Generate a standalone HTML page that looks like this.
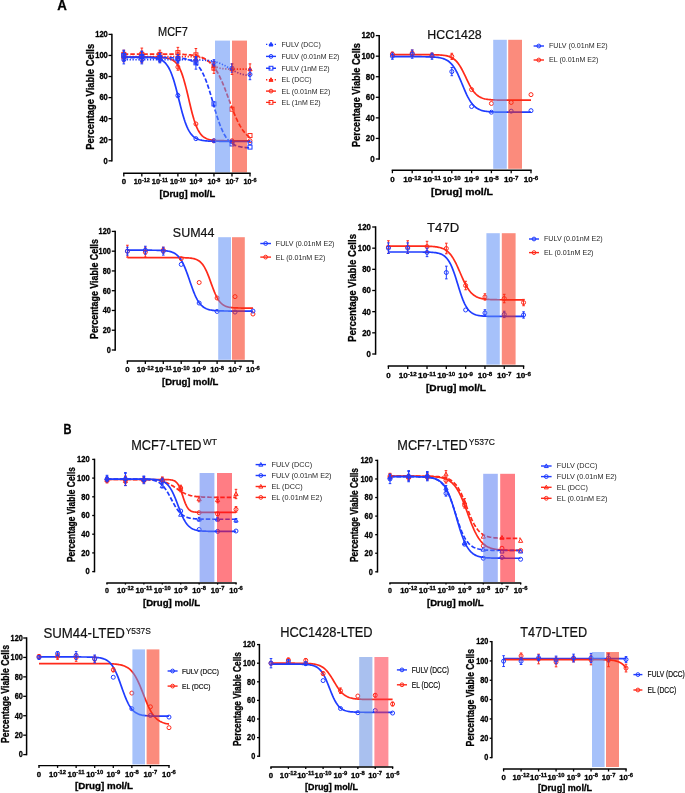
<!DOCTYPE html>
<html><head><meta charset="utf-8"><style>
html,body{margin:0;padding:0;background:#fff;}
body{width:685px;height:793px;overflow:hidden;}
svg{display:block;font-family:"Liberation Sans", sans-serif;will-change:transform;}
text[font-weight="bold"]{stroke:#000;stroke-width:0.3px;fill:#000;}
</style></head><body>
<svg width="685" height="793" viewBox="0 0 685 793">
<rect width="685" height="793" fill="#fff"/>
<text x="57.2" y="10" font-size="14.8" font-weight="bold" fill="#000" textLength="9.6" lengthAdjust="spacingAndGlyphs">A</text>
<text x="63.4" y="434" font-size="14.6" font-weight="bold" fill="#000" textLength="8.0" lengthAdjust="spacingAndGlyphs">B</text>
<polyline points="123.8,56.63 124.7,56.63 125.6,56.63 126.5,56.63 127.41,56.63 128.31,56.63 129.21,56.63 130.11,56.63 131.01,56.63 131.91,56.63 132.81,56.63 133.72,56.63 134.62,56.63 135.52,56.63 136.42,56.63 137.32,56.63 138.22,56.63 139.13,56.63 140.03,56.63 140.93,56.63 141.83,56.63 142.73,56.63 143.63,56.63 144.53,56.63 145.44,56.63 146.34,56.63 147.24,56.63 148.14,56.63 149.04,56.63 149.94,56.63 150.84,56.63 151.75,56.63 152.65,56.63 153.55,56.63 154.45,56.63 155.35,56.63 156.25,56.63 157.16,56.63 158.06,56.63 158.96,56.63 159.86,56.63 160.76,56.63 161.66,56.63 162.56,56.63 163.47,56.63 164.37,56.63 165.27,56.63 166.17,56.63 167.07,56.63 167.97,56.63 168.88,56.63 169.78,56.63 170.68,56.63 171.58,56.63 172.48,56.63 173.38,56.63 174.28,56.63 175.19,56.63 176.09,56.63 176.99,56.63 177.89,56.63 178.79,56.63 179.69,56.63 180.59,56.63 181.5,56.63 182.4,56.64 183.3,56.64 184.2,56.64 185.1,56.65 186,56.65 186.91,56.66 187.81,56.66 188.71,56.68 189.61,56.69 190.51,56.7 191.41,56.72 192.31,56.75 193.22,56.78 194.12,56.82 195.02,56.87 195.92,56.93 196.82,57.01 197.72,57.11 198.62,57.22 199.53,57.37 200.43,57.55 201.33,57.76 202.23,58.03 203.13,58.34 204.03,58.71 204.94,59.14 205.84,59.64 206.74,60.19 207.64,60.81 208.54,61.47 209.44,62.17 210.34,62.89 211.25,63.61 212.15,64.31 213.05,64.98 213.95,65.59 214.85,66.15 215.75,66.64 216.65,67.08 217.56,67.45 218.46,67.76 219.36,68.02 220.26,68.24 221.16,68.42 222.06,68.56 222.97,68.68 223.87,68.78 224.77,68.85 225.67,68.91 226.57,68.96 227.47,69 228.37,69.04 229.28,69.06 230.18,69.08 231.08,69.1 231.98,69.11 232.88,69.12 233.78,69.13 234.68,69.14 235.59,69.14 236.49,69.14 237.39,69.15 238.29,69.15 239.19,69.15 240.09,69.15 241,69.16 241.9,69.16 242.8,69.16 243.7,69.16 244.6,69.16 245.5,69.16 246.4,69.16 247.31,69.16 248.21,69.16 249.11,69.16 250.01,69.16" fill="none" stroke="#ff2a1a" stroke-width="1.7" stroke-dasharray="1.3,1.6" opacity="1"/>
<polyline points="123.8,57.05 124.7,57.05 125.6,57.05 126.5,57.05 127.41,57.05 128.31,57.05 129.21,57.05 130.11,57.05 131.01,57.05 131.91,57.05 132.81,57.05 133.72,57.05 134.62,57.05 135.52,57.05 136.42,57.05 137.32,57.05 138.22,57.05 139.13,57.05 140.03,57.05 140.93,57.05 141.83,57.05 142.73,57.05 143.63,57.06 144.53,57.06 145.44,57.06 146.34,57.06 147.24,57.06 148.14,57.07 149.04,57.07 149.94,57.08 150.84,57.08 151.75,57.09 152.65,57.1 153.55,57.11 154.45,57.12 155.35,57.14 156.25,57.16 157.16,57.18 158.06,57.21 158.96,57.24 159.86,57.28 160.76,57.32 161.66,57.38 162.56,57.45 163.47,57.53 164.37,57.62 165.27,57.74 166.17,57.88 167.07,58.04 167.97,58.24 168.88,58.48 169.78,58.76 170.68,59.1 171.58,59.5 172.48,59.98 173.38,60.55 174.28,61.22 175.19,62.02 176.09,62.95 176.99,64.05 177.89,65.32 178.79,66.8 179.69,68.5 180.59,70.45 181.5,72.65 182.4,75.13 183.3,77.88 184.2,80.89 185.1,84.15 186,87.63 186.91,91.29 187.81,95.07 188.71,98.92 189.61,102.76 190.51,106.54 191.41,110.2 192.31,113.68 193.22,116.94 194.12,119.96 195.02,122.7 195.92,125.18 196.82,127.38 197.72,129.33 198.62,131.03 199.53,132.51 200.43,133.79 201.33,134.88 202.23,135.82 203.13,136.61 204.03,137.28 204.94,137.85 205.84,138.33 206.74,138.73 207.64,139.07 208.54,139.36 209.44,139.59 210.34,139.79 211.25,139.96 212.15,140.1 213.05,140.21 213.95,140.31 214.85,140.39 215.75,140.45 216.65,140.51 217.56,140.56 218.46,140.6 219.36,140.63 220.26,140.65 221.16,140.68 222.06,140.69 222.97,140.71 223.87,140.72 224.77,140.73 225.67,140.74 226.57,140.75 227.47,140.76 228.37,140.76 229.28,140.77 230.18,140.77 231.08,140.77 231.98,140.77 232.88,140.78 233.78,140.78 234.68,140.78 235.59,140.78 236.49,140.78 237.39,140.78 238.29,140.78 239.19,140.78 240.09,140.78 241,140.78 241.9,140.79 242.8,140.79 243.7,140.79 244.6,140.79 245.5,140.79 246.4,140.79 247.31,140.79 248.21,140.79 249.11,140.79 250.01,140.79" fill="none" stroke="#ff2a1a" stroke-width="1.7" opacity="1"/>
<polyline points="123.8,54.1 124.7,54.1 125.6,54.1 126.5,54.1 127.41,54.1 128.31,54.1 129.21,54.1 130.11,54.1 131.01,54.1 131.91,54.1 132.81,54.1 133.72,54.1 134.62,54.1 135.52,54.1 136.42,54.1 137.32,54.1 138.22,54.1 139.13,54.1 140.03,54.1 140.93,54.1 141.83,54.1 142.73,54.1 143.63,54.1 144.53,54.1 145.44,54.1 146.34,54.1 147.24,54.1 148.14,54.1 149.04,54.1 149.94,54.1 150.84,54.1 151.75,54.11 152.65,54.11 153.55,54.11 154.45,54.11 155.35,54.11 156.25,54.11 157.16,54.11 158.06,54.11 158.96,54.12 159.86,54.12 160.76,54.12 161.66,54.12 162.56,54.13 163.47,54.13 164.37,54.13 165.27,54.14 166.17,54.14 167.07,54.15 167.97,54.15 168.88,54.16 169.78,54.17 170.68,54.18 171.58,54.18 172.48,54.19 173.38,54.21 174.28,54.22 175.19,54.23 176.09,54.25 176.99,54.27 177.89,54.29 178.79,54.31 179.69,54.33 180.59,54.36 181.5,54.39 182.4,54.42 183.3,54.46 184.2,54.5 185.1,54.55 186,54.6 186.91,54.66 187.81,54.72 188.71,54.79 189.61,54.87 190.51,54.96 191.41,55.06 192.31,55.17 193.22,55.29 194.12,55.42 195.02,55.58 195.92,55.74 196.82,55.93 197.72,56.14 198.62,56.37 199.53,56.62 200.43,56.9 201.33,57.22 202.23,57.56 203.13,57.95 204.03,58.37 204.94,58.84 205.84,59.36 206.74,59.92 207.64,60.55 208.54,61.24 209.44,61.99 210.34,62.81 211.25,63.71 212.15,64.69 213.05,65.76 213.95,66.91 214.85,68.16 215.75,69.51 216.65,70.95 217.56,72.5 218.46,74.16 219.36,75.91 220.26,77.77 221.16,79.72 222.06,81.77 222.97,83.91 223.87,86.13 224.77,88.42 225.67,90.76 226.57,93.16 227.47,95.59 228.37,98.04 229.28,100.5 230.18,102.94 231.08,105.37 231.98,107.75 232.88,110.09 233.78,112.37 234.68,114.57 235.59,116.69 236.49,118.72 237.39,120.66 238.29,122.49 239.19,124.23 240.09,125.86 241,127.39 241.9,128.81 242.8,130.14 243.7,131.37 244.6,132.51 245.5,133.56 246.4,134.52 247.31,135.4 248.21,136.21 249.11,136.95 250.01,137.63" fill="none" stroke="#ff2a1a" stroke-width="1.7" stroke-dasharray="4.5,2" opacity="1"/>
<polyline points="123.8,59.68 124.7,59.68 125.6,59.68 126.5,59.68 127.41,59.68 128.31,59.68 129.21,59.68 130.11,59.68 131.01,59.68 131.91,59.68 132.81,59.68 133.72,59.68 134.62,59.68 135.52,59.68 136.42,59.68 137.32,59.68 138.22,59.68 139.13,59.68 140.03,59.68 140.93,59.68 141.83,59.68 142.73,59.68 143.63,59.68 144.53,59.68 145.44,59.68 146.34,59.68 147.24,59.68 148.14,59.68 149.04,59.68 149.94,59.68 150.84,59.68 151.75,59.68 152.65,59.68 153.55,59.68 154.45,59.68 155.35,59.68 156.25,59.68 157.16,59.68 158.06,59.68 158.96,59.68 159.86,59.68 160.76,59.68 161.66,59.68 162.56,59.68 163.47,59.68 164.37,59.68 165.27,59.68 166.17,59.68 167.07,59.68 167.97,59.68 168.88,59.68 169.78,59.68 170.68,59.68 171.58,59.69 172.48,59.69 173.38,59.69 174.28,59.69 175.19,59.69 176.09,59.69 176.99,59.69 177.89,59.69 178.79,59.69 179.69,59.7 180.59,59.7 181.5,59.7 182.4,59.7 183.3,59.71 184.2,59.71 185.1,59.71 186,59.72 186.91,59.72 187.81,59.73 188.71,59.74 189.61,59.75 190.51,59.75 191.41,59.76 192.31,59.78 193.22,59.79 194.12,59.8 195.02,59.82 195.92,59.84 196.82,59.86 197.72,59.88 198.62,59.91 199.53,59.94 200.43,59.98 201.33,60.01 202.23,60.06 203.13,60.11 204.03,60.16 204.94,60.23 205.84,60.3 206.74,60.38 207.64,60.47 208.54,60.57 209.44,60.68 210.34,60.81 211.25,60.95 212.15,61.11 213.05,61.28 213.95,61.47 214.85,61.69 215.75,61.92 216.65,62.18 217.56,62.46 218.46,62.77 219.36,63.1 220.26,63.46 221.16,63.84 222.06,64.25 222.97,64.69 223.87,65.14 224.77,65.62 225.67,66.12 226.57,66.63 227.47,67.15 228.37,67.68 229.28,68.21 230.18,68.75 231.08,69.27 231.98,69.79 232.88,70.3 233.78,70.79 234.68,71.25 235.59,71.7 236.49,72.13 237.39,72.53 238.29,72.9 239.19,73.25 240.09,73.57 241,73.87 241.9,74.14 242.8,74.39 243.7,74.61 244.6,74.82 245.5,75 246.4,75.17 247.31,75.32 248.21,75.46 249.11,75.58 250.01,75.69" fill="none" stroke="#1f3cff" stroke-width="1.7" stroke-dasharray="1.3,1.6" opacity="1"/>
<polyline points="123.8,57.05 124.7,57.05 125.6,57.05 126.5,57.05 127.41,57.05 128.31,57.05 129.21,57.05 130.11,57.05 131.01,57.06 131.91,57.06 132.81,57.06 133.72,57.06 134.62,57.06 135.52,57.07 136.42,57.07 137.32,57.08 138.22,57.08 139.13,57.09 140.03,57.1 140.93,57.11 141.83,57.12 142.73,57.13 143.63,57.15 144.53,57.17 145.44,57.19 146.34,57.21 147.24,57.25 148.14,57.28 149.04,57.33 149.94,57.38 150.84,57.44 151.75,57.52 152.65,57.61 153.55,57.71 154.45,57.83 155.35,57.98 156.25,58.16 157.16,58.36 158.06,58.6 158.96,58.89 159.86,59.23 160.76,59.63 161.66,60.1 162.56,60.65 163.47,61.29 164.37,62.05 165.27,62.92 166.17,63.94 167.07,65.12 167.97,66.47 168.88,68.01 169.78,69.77 170.68,71.75 171.58,73.96 172.48,76.42 173.38,79.12 174.28,82.04 175.19,85.18 176.09,88.5 176.99,91.98 177.89,95.55 178.79,99.18 179.69,102.81 180.59,106.38 181.5,109.86 182.4,113.18 183.3,116.32 184.2,119.24 185.1,121.94 186,124.4 186.91,126.61 187.81,128.59 188.71,130.35 189.61,131.89 190.51,133.24 191.41,134.42 192.31,135.44 193.22,136.31 194.12,137.07 195.02,137.71 195.92,138.26 196.82,138.73 197.72,139.13 198.62,139.47 199.53,139.76 200.43,140 201.33,140.2 202.23,140.38 203.13,140.53 204.03,140.65 204.94,140.75 205.84,140.84 206.74,140.92 207.64,140.98 208.54,141.03 209.44,141.08 210.34,141.11 211.25,141.15 212.15,141.17 213.05,141.19 213.95,141.21 214.85,141.23 215.75,141.24 216.65,141.25 217.56,141.26 218.46,141.27 219.36,141.28 220.26,141.28 221.16,141.29 222.06,141.29 222.97,141.3 223.87,141.3 224.77,141.3 225.67,141.3 226.57,141.3 227.47,141.31 228.37,141.31 229.28,141.31 230.18,141.31 231.08,141.31 231.98,141.31 232.88,141.31 233.78,141.31 234.68,141.31 235.59,141.31 236.49,141.31 237.39,141.31 238.29,141.31 239.19,141.31 240.09,141.31 241,141.31 241.9,141.31 242.8,141.31 243.7,141.31 244.6,141.31 245.5,141.31 246.4,141.31 247.31,141.31 248.21,141.31 249.11,141.31 250.01,141.31" fill="none" stroke="#1f3cff" stroke-width="1.7" opacity="1"/>
<polyline points="123.8,57.57 124.7,57.57 125.6,57.57 126.5,57.57 127.41,57.57 128.31,57.57 129.21,57.57 130.11,57.57 131.01,57.57 131.91,57.57 132.81,57.57 133.72,57.57 134.62,57.57 135.52,57.57 136.42,57.57 137.32,57.57 138.22,57.57 139.13,57.57 140.03,57.57 140.93,57.57 141.83,57.57 142.73,57.58 143.63,57.58 144.53,57.58 145.44,57.58 146.34,57.58 147.24,57.58 148.14,57.58 149.04,57.58 149.94,57.58 150.84,57.58 151.75,57.58 152.65,57.58 153.55,57.58 154.45,57.58 155.35,57.59 156.25,57.59 157.16,57.59 158.06,57.59 158.96,57.6 159.86,57.6 160.76,57.6 161.66,57.61 162.56,57.61 163.47,57.62 164.37,57.63 165.27,57.63 166.17,57.64 167.07,57.65 167.97,57.66 168.88,57.68 169.78,57.69 170.68,57.71 171.58,57.73 172.48,57.75 173.38,57.78 174.28,57.81 175.19,57.85 176.09,57.89 176.99,57.93 177.89,57.99 178.79,58.05 179.69,58.12 180.59,58.2 181.5,58.29 182.4,58.39 183.3,58.51 184.2,58.65 185.1,58.81 186,58.99 186.91,59.19 187.81,59.43 188.71,59.7 189.61,60 190.51,60.35 191.41,60.75 192.31,61.2 193.22,61.71 194.12,62.29 195.02,62.95 195.92,63.69 196.82,64.53 197.72,65.47 198.62,66.52 199.53,67.7 200.43,69.01 201.33,70.47 202.23,72.07 203.13,73.83 204.03,75.76 204.94,77.85 205.84,80.11 206.74,82.53 207.64,85.1 208.54,87.82 209.44,90.66 210.34,93.61 211.25,96.65 212.15,99.74 213.05,102.87 213.95,105.99 214.85,109.08 215.75,112.12 216.65,115.07 217.56,117.92 218.46,120.63 219.36,123.21 220.26,125.63 221.16,127.88 222.06,129.97 222.97,131.9 223.87,133.66 224.77,135.27 225.67,136.72 226.57,138.03 227.47,139.21 228.37,140.26 229.28,141.2 230.18,142.04 231.08,142.78 231.98,143.44 232.88,144.02 233.78,144.53 234.68,144.99 235.59,145.38 236.49,145.73 237.39,146.04 238.29,146.31 239.19,146.54 240.09,146.75 241,146.93 241.9,147.08 242.8,147.22 243.7,147.34 244.6,147.45 245.5,147.54 246.4,147.62 247.31,147.69 248.21,147.75 249.11,147.8 250.01,147.85" fill="none" stroke="#1f3cff" stroke-width="1.7" stroke-dasharray="4.5,2" opacity="1"/>
<path d="M123.8,52.31V60.73M122.5,52.31H125.1M122.5,60.73H125.1" stroke="#ff2a1a" stroke-width="1" fill="none"/>
<path d="M123.8,54.32 L125.9,58.17 L121.7,58.17Z" fill="#ff2a1a" stroke="#ff2a1a" stroke-width="1.0"/>
<path d="M141.83,51.25V61.79M140.53,51.25H143.13M140.53,61.79H143.13" stroke="#ff2a1a" stroke-width="1" fill="none"/>
<path d="M141.83,54.32 L143.93,58.17 L139.73,58.17Z" fill="#ff2a1a" stroke="#ff2a1a" stroke-width="1.0"/>
<path d="M159.86,52.31V60.73M158.56,52.31H161.16M158.56,60.73H161.16" stroke="#ff2a1a" stroke-width="1" fill="none"/>
<path d="M159.86,54.32 L161.96,58.17 L157.76,58.17Z" fill="#ff2a1a" stroke="#ff2a1a" stroke-width="1.0"/>
<path d="M177.89,52.31V60.73M176.59,52.31H179.19M176.59,60.73H179.19" stroke="#ff2a1a" stroke-width="1" fill="none"/>
<path d="M177.89,54.32 L179.99,58.17 L175.79,58.17Z" fill="#ff2a1a" stroke="#ff2a1a" stroke-width="1.0"/>
<path d="M195.92,54.41V62.84M194.62,54.41H197.22M194.62,62.84H197.22" stroke="#ff2a1a" stroke-width="1" fill="none"/>
<path d="M195.92,56.43 L198.02,60.28 L193.82,60.28Z" fill="#ff2a1a" stroke="#ff2a1a" stroke-width="1.0"/>
<path d="M213.95,61.79V70.21M212.65,61.79H215.25M212.65,70.21H215.25" stroke="#ff2a1a" stroke-width="1" fill="none"/>
<path d="M213.95,63.8 L216.05,67.65 L211.85,67.65Z" fill="#ff2a1a" stroke="#ff2a1a" stroke-width="1.0"/>
<path d="M231.98,63.89V74.43M230.68,63.89H233.28M230.68,74.43H233.28" stroke="#ff2a1a" stroke-width="1" fill="none"/>
<path d="M231.98,66.96 L234.08,70.81 L229.88,70.81Z" fill="#ff2a1a" stroke="#ff2a1a" stroke-width="1.0"/>
<path d="M250.01,63.89V74.43M248.71,63.89H251.31M248.71,74.43H251.31" stroke="#ff2a1a" stroke-width="1" fill="none"/>
<path d="M250.01,66.96 L252.11,70.81 L247.91,70.81Z" fill="#ff2a1a" stroke="#ff2a1a" stroke-width="1.0"/>
<path d="M123.8,53.36V61.79M122.5,53.36H125.1M122.5,61.79H125.1" stroke="#ff2a1a" stroke-width="1" fill="none"/>
<circle cx="123.8" cy="57.57" r="2" fill="none" stroke="#ff2a1a" stroke-width="1.0"/>
<path d="M141.83,52.31V62.84M140.53,52.31H143.13M140.53,62.84H143.13" stroke="#ff2a1a" stroke-width="1" fill="none"/>
<circle cx="141.83" cy="57.57" r="2" fill="none" stroke="#ff2a1a" stroke-width="1.0"/>
<path d="M159.86,53.36V61.79M158.56,53.36H161.16M158.56,61.79H161.16" stroke="#ff2a1a" stroke-width="1" fill="none"/>
<circle cx="159.86" cy="57.57" r="2" fill="none" stroke="#ff2a1a" stroke-width="1.0"/>
<path d="M177.89,63.89V70.21M176.59,63.89H179.19M176.59,70.21H179.19" stroke="#ff2a1a" stroke-width="1" fill="none"/>
<circle cx="177.89" cy="67.05" r="2" fill="none" stroke="#ff2a1a" stroke-width="1.0"/>
<circle cx="195.92" cy="123.93" r="2" fill="none" stroke="#ff2a1a" stroke-width="1.0"/>
<circle cx="213.95" cy="140.79" r="2" fill="none" stroke="#ff2a1a" stroke-width="1.0"/>
<circle cx="231.98" cy="140.79" r="2" fill="none" stroke="#ff2a1a" stroke-width="1.0"/>
<circle cx="250.01" cy="140.79" r="2" fill="none" stroke="#ff2a1a" stroke-width="1.0"/>
<path d="M123.8,50.2V58.63M122.5,50.2H125.1M122.5,58.63H125.1" stroke="#ff2a1a" stroke-width="1" fill="none"/>
<rect x="121.8" y="52.41" width="4" height="4" fill="none" stroke="#ff2a1a" stroke-width="1.0"/>
<path d="M141.83,48.09V60.73M140.53,48.09H143.13M140.53,60.73H143.13" stroke="#ff2a1a" stroke-width="1" fill="none"/>
<rect x="139.83" y="52.41" width="4" height="4" fill="none" stroke="#ff2a1a" stroke-width="1.0"/>
<path d="M159.86,50.2V58.63M158.56,50.2H161.16M158.56,58.63H161.16" stroke="#ff2a1a" stroke-width="1" fill="none"/>
<rect x="157.86" y="52.41" width="4" height="4" fill="none" stroke="#ff2a1a" stroke-width="1.0"/>
<path d="M177.89,47.36V57.89M176.59,47.36H179.19M176.59,57.89H179.19" stroke="#ff2a1a" stroke-width="1" fill="none"/>
<rect x="175.89" y="50.62" width="4" height="4" fill="none" stroke="#ff2a1a" stroke-width="1.0"/>
<path d="M195.92,48.51V61.15M194.62,48.51H197.22M194.62,61.15H197.22" stroke="#ff2a1a" stroke-width="1" fill="none"/>
<rect x="193.92" y="52.83" width="4" height="4" fill="none" stroke="#ff2a1a" stroke-width="1.0"/>
<path d="M213.95,62.84V73.37M212.65,62.84H215.25M212.65,73.37H215.25" stroke="#ff2a1a" stroke-width="1" fill="none"/>
<rect x="211.95" y="66.11" width="4" height="4" fill="none" stroke="#ff2a1a" stroke-width="1.0"/>
<rect x="229.98" y="107.19" width="4" height="4" fill="none" stroke="#ff2a1a" stroke-width="1.0"/>
<rect x="248.01" y="133.52" width="4" height="4" fill="none" stroke="#ff2a1a" stroke-width="1.0"/>
<path d="M123.8,55.47V63.89M122.5,55.47H125.1M122.5,63.89H125.1" stroke="#1f3cff" stroke-width="1" fill="none"/>
<circle cx="123.8" cy="59.68" r="2" fill="none" stroke="#1f3cff" stroke-width="1.0"/>
<path d="M141.83,55.47V63.89M140.53,55.47H143.13M140.53,63.89H143.13" stroke="#1f3cff" stroke-width="1" fill="none"/>
<circle cx="141.83" cy="59.68" r="2" fill="none" stroke="#1f3cff" stroke-width="1.0"/>
<path d="M159.86,56.52V62.84M158.56,56.52H161.16M158.56,62.84H161.16" stroke="#1f3cff" stroke-width="1" fill="none"/>
<circle cx="159.86" cy="59.68" r="2" fill="none" stroke="#1f3cff" stroke-width="1.0"/>
<path d="M177.89,56.52V62.84M176.59,56.52H179.19M176.59,62.84H179.19" stroke="#1f3cff" stroke-width="1" fill="none"/>
<circle cx="177.89" cy="59.68" r="2" fill="none" stroke="#1f3cff" stroke-width="1.0"/>
<path d="M195.92,57.57V63.89M194.62,57.57H197.22M194.62,63.89H197.22" stroke="#1f3cff" stroke-width="1" fill="none"/>
<circle cx="195.92" cy="60.73" r="2" fill="none" stroke="#1f3cff" stroke-width="1.0"/>
<path d="M213.95,59.68V66M212.65,59.68H215.25M212.65,66H215.25" stroke="#1f3cff" stroke-width="1" fill="none"/>
<circle cx="213.95" cy="62.84" r="2" fill="none" stroke="#1f3cff" stroke-width="1.0"/>
<path d="M231.98,63.89V72.32M230.68,63.89H233.28M230.68,72.32H233.28" stroke="#1f3cff" stroke-width="1" fill="none"/>
<circle cx="231.98" cy="68.11" r="2" fill="none" stroke="#1f3cff" stroke-width="1.0"/>
<path d="M250.01,69.16V79.69M248.71,69.16H251.31M248.71,79.69H251.31" stroke="#1f3cff" stroke-width="1" fill="none"/>
<circle cx="250.01" cy="74.43" r="2" fill="none" stroke="#1f3cff" stroke-width="1.0"/>
<path d="M123.8,50.2V60.73M122.5,50.2H125.1M122.5,60.73H125.1" stroke="#1f3cff" stroke-width="1" fill="none"/>
<circle cx="123.8" cy="55.47" r="2" fill="none" stroke="#1f3cff" stroke-width="1.0"/>
<path d="M141.83,51.25V61.79M140.53,51.25H143.13M140.53,61.79H143.13" stroke="#1f3cff" stroke-width="1" fill="none"/>
<circle cx="141.83" cy="56.52" r="2" fill="none" stroke="#1f3cff" stroke-width="1.0"/>
<path d="M159.86,53.36V61.79M158.56,53.36H161.16M158.56,61.79H161.16" stroke="#1f3cff" stroke-width="1" fill="none"/>
<circle cx="159.86" cy="57.57" r="2" fill="none" stroke="#1f3cff" stroke-width="1.0"/>
<path d="M177.89,93.39V97.6M176.59,93.39H179.19M176.59,97.6H179.19" stroke="#1f3cff" stroke-width="1" fill="none"/>
<circle cx="177.89" cy="95.49" r="2" fill="none" stroke="#1f3cff" stroke-width="1.0"/>
<circle cx="195.92" cy="138.68" r="2" fill="none" stroke="#1f3cff" stroke-width="1.0"/>
<circle cx="213.95" cy="140.79" r="2" fill="none" stroke="#1f3cff" stroke-width="1.0"/>
<circle cx="231.98" cy="141.84" r="2" fill="none" stroke="#1f3cff" stroke-width="1.0"/>
<circle cx="250.01" cy="142.89" r="2" fill="none" stroke="#1f3cff" stroke-width="1.0"/>
<path d="M123.8,51.25V59.68M122.5,51.25H125.1M122.5,59.68H125.1" stroke="#1f3cff" stroke-width="1" fill="none"/>
<rect x="121.8" y="53.47" width="4" height="4" fill="none" stroke="#1f3cff" stroke-width="1.0"/>
<path d="M141.83,51.25V61.79M140.53,51.25H143.13M140.53,61.79H143.13" stroke="#1f3cff" stroke-width="1" fill="none"/>
<rect x="139.83" y="54.52" width="4" height="4" fill="none" stroke="#1f3cff" stroke-width="1.0"/>
<path d="M159.86,53.36V61.79M158.56,53.36H161.16M158.56,61.79H161.16" stroke="#1f3cff" stroke-width="1" fill="none"/>
<rect x="157.86" y="55.57" width="4" height="4" fill="none" stroke="#1f3cff" stroke-width="1.0"/>
<path d="M177.89,54.41V62.84M176.59,54.41H179.19M176.59,62.84H179.19" stroke="#1f3cff" stroke-width="1" fill="none"/>
<rect x="175.89" y="56.63" width="4" height="4" fill="none" stroke="#1f3cff" stroke-width="1.0"/>
<path d="M195.92,56.52V69.16M194.62,56.52H197.22M194.62,69.16H197.22" stroke="#1f3cff" stroke-width="1" fill="none"/>
<rect x="193.92" y="60.84" width="4" height="4" fill="none" stroke="#1f3cff" stroke-width="1.0"/>
<path d="M213.95,101.81V106.03M212.65,101.81H215.25M212.65,106.03H215.25" stroke="#1f3cff" stroke-width="1" fill="none"/>
<rect x="211.95" y="101.92" width="4" height="4" fill="none" stroke="#1f3cff" stroke-width="1.0"/>
<rect x="229.98" y="141.95" width="4" height="4" fill="none" stroke="#1f3cff" stroke-width="1.0"/>
<rect x="248.01" y="145.11" width="4" height="4" fill="none" stroke="#1f3cff" stroke-width="1.0"/>
<rect x="215" y="40.6" width="15" height="131.8" fill="#5d8ef6" fill-opacity="0.55"/>
<rect x="232" y="40.6" width="15" height="131.8" fill="#f82c11" fill-opacity="0.55"/>
<path d="M111.9,33.7V161.5" stroke="#000" stroke-width="1.5"/>
<path d="M108.5,160.8H111.9" stroke="#000" stroke-width="1.3"/>
<text x="107.8" y="163.67" font-size="8.2" text-anchor="end" font-weight="bold" fill="#111" textLength="4.2" lengthAdjust="spacingAndGlyphs">0</text>
<path d="M108.5,139.73H111.9" stroke="#000" stroke-width="1.3"/>
<text x="107.8" y="142.6" font-size="8.2" text-anchor="end" font-weight="bold" fill="#111" textLength="8.4" lengthAdjust="spacingAndGlyphs">20</text>
<path d="M108.5,118.67H111.9" stroke="#000" stroke-width="1.3"/>
<text x="107.8" y="121.54" font-size="8.2" text-anchor="end" font-weight="bold" fill="#111" textLength="8.4" lengthAdjust="spacingAndGlyphs">40</text>
<path d="M108.5,97.6H111.9" stroke="#000" stroke-width="1.3"/>
<text x="107.8" y="100.47" font-size="8.2" text-anchor="end" font-weight="bold" fill="#111" textLength="8.4" lengthAdjust="spacingAndGlyphs">60</text>
<path d="M108.5,76.53H111.9" stroke="#000" stroke-width="1.3"/>
<text x="107.8" y="79.4" font-size="8.2" text-anchor="end" font-weight="bold" fill="#111" textLength="8.4" lengthAdjust="spacingAndGlyphs">80</text>
<path d="M108.5,55.47H111.9" stroke="#000" stroke-width="1.3"/>
<text x="107.8" y="58.34" font-size="8.2" text-anchor="end" font-weight="bold" fill="#111" textLength="12.6" lengthAdjust="spacingAndGlyphs">100</text>
<path d="M108.5,34.4H111.9" stroke="#000" stroke-width="1.3"/>
<text x="107.8" y="37.27" font-size="8.2" text-anchor="end" font-weight="bold" fill="#111" textLength="12.6" lengthAdjust="spacingAndGlyphs">120</text>
<path d="M123.1,173.2H250.71" stroke="#000" stroke-width="1.4"/>
<path d="M123.8,173.2V176.6" stroke="#000" stroke-width="1.3"/>
<path d="M141.83,173.2V176.6" stroke="#000" stroke-width="1.3"/>
<path d="M159.86,173.2V176.6" stroke="#000" stroke-width="1.3"/>
<path d="M177.89,173.2V176.6" stroke="#000" stroke-width="1.3"/>
<path d="M195.92,173.2V176.6" stroke="#000" stroke-width="1.3"/>
<path d="M213.95,173.2V176.6" stroke="#000" stroke-width="1.3"/>
<path d="M231.98,173.2V176.6" stroke="#000" stroke-width="1.3"/>
<path d="M250.01,173.2V176.6" stroke="#000" stroke-width="1.3"/>
<text x="123.8" y="184.4" font-size="7.8" text-anchor="middle" font-weight="bold" fill="#111">0</text>
<text x="141.83" y="184.4" font-size="7.8" text-anchor="middle" font-weight="bold" fill="#111" textLength="16" lengthAdjust="spacingAndGlyphs">10<tspan dy="-2.5" font-size="5.93">-12</tspan></text>
<text x="159.86" y="184.4" font-size="7.8" text-anchor="middle" font-weight="bold" fill="#111" textLength="16" lengthAdjust="spacingAndGlyphs">10<tspan dy="-2.5" font-size="5.93">-11</tspan></text>
<text x="177.89" y="184.4" font-size="7.8" text-anchor="middle" font-weight="bold" fill="#111" textLength="16" lengthAdjust="spacingAndGlyphs">10<tspan dy="-2.5" font-size="5.93">-10</tspan></text>
<text x="195.92" y="184.4" font-size="7.8" text-anchor="middle" font-weight="bold" fill="#111" textLength="12.94" lengthAdjust="spacingAndGlyphs">10<tspan dy="-2.5" font-size="5.93">-9</tspan></text>
<text x="213.95" y="184.4" font-size="7.8" text-anchor="middle" font-weight="bold" fill="#111" textLength="12.94" lengthAdjust="spacingAndGlyphs">10<tspan dy="-2.5" font-size="5.93">-8</tspan></text>
<text x="231.98" y="184.4" font-size="7.8" text-anchor="middle" font-weight="bold" fill="#111" textLength="12.94" lengthAdjust="spacingAndGlyphs">10<tspan dy="-2.5" font-size="5.93">-7</tspan></text>
<text x="250.01" y="184.4" font-size="7.8" text-anchor="middle" font-weight="bold" fill="#111" textLength="12.94" lengthAdjust="spacingAndGlyphs">10<tspan dy="-2.5" font-size="5.93">-6</tspan></text>
<text x="187.4" y="196.6" font-size="8.8" text-anchor="middle" font-weight="bold" fill="#111" textLength="55.6" lengthAdjust="spacingAndGlyphs">[Drug] mol/L</text>
<text x="0" y="0" font-size="11" text-anchor="middle" font-weight="bold" fill="#111" textLength="105.8" lengthAdjust="spacingAndGlyphs" transform="translate(94,96.8) rotate(-90)">Percentage Viable Cells</text>
<text x="158.05" y="36.45" font-size="12.3" text-anchor="start" font-weight="normal" fill="#111" textLength="29.9" lengthAdjust="spacingAndGlyphs" stroke="#111" stroke-width="0.2">MCF7</text>
<path d="M266,44.4H276" stroke="#1f3cff" stroke-width="1.4" stroke-dasharray="1.3,1.6"/>
<path d="M271,42.31 L273,45.97 L269,45.97Z" fill="#1f3cff" stroke="#1f3cff" stroke-width="1.0"/>
<text x="281.6" y="46.88" font-size="7.2" text-anchor="start" font-weight="normal" fill="#262626" textLength="39.15" lengthAdjust="spacingAndGlyphs">FULV (DCC)</text>
<path d="M266,56.4H276" stroke="#1f3cff" stroke-width="1.4"/>
<circle cx="271" cy="56.4" r="1.9" fill="none" stroke="#1f3cff" stroke-width="1.0"/>
<text x="281.6" y="58.88" font-size="7.2" text-anchor="start" font-weight="normal" fill="#262626" textLength="57.83" lengthAdjust="spacingAndGlyphs">FULV (0.01nM E2)</text>
<path d="M266,68.2H276" stroke="#1f3cff" stroke-width="1.4" stroke-dasharray="4.5,2"/>
<rect x="269.1" y="66.3" width="3.8" height="3.8" fill="none" stroke="#1f3cff" stroke-width="1.0"/>
<text x="281.6" y="70.68" font-size="7.2" text-anchor="start" font-weight="normal" fill="#262626" textLength="48.1" lengthAdjust="spacingAndGlyphs">FULV (1nM E2)</text>
<path d="M266,79.8H276" stroke="#ff2a1a" stroke-width="1.4" stroke-dasharray="1.3,1.6"/>
<path d="M271,77.71 L273,81.37 L269,81.37Z" fill="#ff2a1a" stroke="#ff2a1a" stroke-width="1.0"/>
<text x="281.6" y="82.28" font-size="7.2" text-anchor="start" font-weight="normal" fill="#262626" textLength="30.07" lengthAdjust="spacingAndGlyphs">EL (DCC)</text>
<path d="M266,91.1H276" stroke="#ff2a1a" stroke-width="1.4"/>
<circle cx="271" cy="91.1" r="1.9" fill="none" stroke="#ff2a1a" stroke-width="1.0"/>
<text x="281.6" y="93.58" font-size="7.2" text-anchor="start" font-weight="normal" fill="#262626" textLength="48.76" lengthAdjust="spacingAndGlyphs">EL (0.01nM E2)</text>
<path d="M266,102.4H276" stroke="#ff2a1a" stroke-width="1.4" stroke-dasharray="4.5,2"/>
<rect x="269.1" y="100.5" width="3.8" height="3.8" fill="none" stroke="#ff2a1a" stroke-width="1.0"/>
<text x="281.6" y="104.88" font-size="7.2" text-anchor="start" font-weight="normal" fill="#262626" textLength="39.03" lengthAdjust="spacingAndGlyphs">EL (1nM E2)</text>
<polyline points="392.4,54.62 393.39,54.62 394.38,54.62 395.37,54.62 396.36,54.62 397.35,54.62 398.34,54.62 399.33,54.62 400.32,54.62 401.31,54.62 402.3,54.62 403.29,54.62 404.28,54.62 405.27,54.62 406.26,54.62 407.25,54.63 408.24,54.63 409.23,54.63 410.22,54.63 411.21,54.63 412.2,54.63 413.19,54.63 414.18,54.63 415.17,54.63 416.16,54.63 417.15,54.63 418.14,54.63 419.13,54.63 420.12,54.63 421.11,54.64 422.1,54.64 423.09,54.64 424.08,54.64 425.07,54.65 426.06,54.65 427.05,54.66 428.04,54.66 429.03,54.67 430.02,54.68 431.01,54.69 432,54.71 432.99,54.72 433.98,54.74 434.97,54.77 435.96,54.8 436.95,54.83 437.94,54.88 438.93,54.93 439.92,54.99 440.91,55.06 441.9,55.15 442.89,55.25 443.88,55.37 444.87,55.52 445.86,55.7 446.85,55.91 447.84,56.16 448.83,56.46 449.82,56.82 450.81,57.24 451.8,57.73 452.79,58.31 453.78,58.98 454.77,59.76 455.76,60.66 456.75,61.69 457.74,62.86 458.73,64.18 459.72,65.65 460.71,67.26 461.7,69.01 462.69,70.88 463.68,72.85 464.67,74.89 465.66,76.98 466.65,79.08 467.64,81.14 468.63,83.15 469.62,85.06 470.61,86.86 471.6,88.53 472.59,90.05 473.58,91.43 474.57,92.66 475.56,93.75 476.55,94.7 477.54,95.53 478.53,96.24 479.52,96.86 480.51,97.38 481.5,97.83 482.49,98.21 483.48,98.53 484.47,98.8 485.46,99.02 486.45,99.21 487.44,99.37 488.43,99.51 489.42,99.62 490.41,99.71 491.4,99.79 492.39,99.85 493.38,99.91 494.37,99.95 495.36,99.99 496.35,100.02 497.34,100.05 498.33,100.07 499.32,100.09 500.31,100.1 501.3,100.12 502.29,100.13 503.28,100.14 504.27,100.14 505.26,100.15 506.25,100.15 507.24,100.16 508.23,100.16 509.22,100.17 510.21,100.17 511.2,100.17 512.19,100.17 513.18,100.17 514.17,100.17 515.16,100.17 516.15,100.18 517.14,100.18 518.13,100.18 519.12,100.18 520.11,100.18 521.1,100.18 522.09,100.18 523.08,100.18 524.07,100.18 525.06,100.18 526.05,100.18 527.04,100.18 528.03,100.18 529.02,100.18 530.01,100.18 531,100.18" fill="none" stroke="#ff2a1a" stroke-width="1.7" opacity="1"/>
<polyline points="392.4,56.68 393.39,56.68 394.38,56.68 395.37,56.68 396.36,56.68 397.35,56.68 398.34,56.68 399.33,56.68 400.32,56.68 401.31,56.68 402.3,56.68 403.29,56.68 404.28,56.68 405.27,56.68 406.26,56.68 407.25,56.68 408.24,56.69 409.23,56.69 410.22,56.69 411.21,56.69 412.2,56.69 413.19,56.69 414.18,56.69 415.17,56.7 416.16,56.7 417.15,56.7 418.14,56.71 419.13,56.71 420.12,56.72 421.11,56.72 422.1,56.73 423.09,56.74 424.08,56.75 425.07,56.76 426.06,56.78 427.05,56.8 428.04,56.82 429.03,56.85 430.02,56.88 431.01,56.92 432,56.96 432.99,57.01 433.98,57.08 434.97,57.15 435.96,57.24 436.95,57.34 437.94,57.46 438.93,57.61 439.92,57.78 440.91,57.98 441.9,58.22 442.89,58.5 443.88,58.83 444.87,59.22 445.86,59.67 446.85,60.2 447.84,60.81 448.83,61.52 449.82,62.34 450.81,63.28 451.8,64.35 452.79,65.57 453.78,66.93 454.77,68.46 455.76,70.14 456.75,71.98 457.74,73.96 458.73,76.08 459.72,78.32 460.71,80.63 461.7,83.01 462.69,85.4 463.68,87.79 464.67,90.12 465.66,92.37 466.65,94.51 467.64,96.53 468.63,98.4 469.62,100.11 470.61,101.67 471.6,103.06 472.59,104.31 473.58,105.41 474.57,106.37 475.56,107.22 476.55,107.95 477.54,108.58 478.53,109.12 479.52,109.59 480.51,109.99 481.5,110.33 482.49,110.62 483.48,110.87 484.47,111.07 485.46,111.25 486.45,111.4 487.44,111.53 488.43,111.64 489.42,111.73 490.41,111.8 491.4,111.87 492.39,111.92 493.38,111.97 494.37,112.01 495.36,112.04 496.35,112.07 497.34,112.09 498.33,112.11 499.32,112.12 500.31,112.14 501.3,112.15 502.29,112.16 503.28,112.17 504.27,112.17 505.26,112.18 506.25,112.18 507.24,112.19 508.23,112.19 509.22,112.2 510.21,112.2 511.2,112.2 512.19,112.2 513.18,112.2 514.17,112.2 515.16,112.21 516.15,112.21 517.14,112.21 518.13,112.21 519.12,112.21 520.11,112.21 521.1,112.21 522.09,112.21 523.08,112.21 524.07,112.21 525.06,112.21 526.05,112.21 527.04,112.21 528.03,112.21 529.02,112.21 530.01,112.21 531,112.21" fill="none" stroke="#1f3cff" stroke-width="1.7" opacity="1"/>
<path d="M392.4,52.05V56.17M391.1,52.05H393.7M391.1,56.17H393.7" stroke="#ff2a1a" stroke-width="1" fill="none"/>
<circle cx="392.4" cy="54.11" r="2" fill="none" stroke="#ff2a1a" stroke-width="1.0"/>
<path d="M412.2,50V56.17M410.9,50H413.5M410.9,56.17H413.5" stroke="#ff2a1a" stroke-width="1" fill="none"/>
<circle cx="412.2" cy="53.08" r="2" fill="none" stroke="#ff2a1a" stroke-width="1.0"/>
<path d="M432,53.08V57.2M430.7,53.08H433.3M430.7,57.2H433.3" stroke="#ff2a1a" stroke-width="1" fill="none"/>
<circle cx="432" cy="55.14" r="2" fill="none" stroke="#ff2a1a" stroke-width="1.0"/>
<path d="M451.8,53.29V59.46M450.5,53.29H453.1M450.5,59.46H453.1" stroke="#ff2a1a" stroke-width="1" fill="none"/>
<circle cx="451.8" cy="56.37" r="2" fill="none" stroke="#ff2a1a" stroke-width="1.0"/>
<circle cx="471.6" cy="89.59" r="2" fill="none" stroke="#ff2a1a" stroke-width="1.0"/>
<circle cx="491.4" cy="103.47" r="2" fill="none" stroke="#ff2a1a" stroke-width="1.0"/>
<circle cx="511.2" cy="102.44" r="2" fill="none" stroke="#ff2a1a" stroke-width="1.0"/>
<circle cx="531" cy="94.63" r="2" fill="none" stroke="#ff2a1a" stroke-width="1.0"/>
<path d="M392.4,53.08V59.25M391.1,53.08H393.7M391.1,59.25H393.7" stroke="#1f3cff" stroke-width="1" fill="none"/>
<circle cx="392.4" cy="56.17" r="2" fill="none" stroke="#1f3cff" stroke-width="1.0"/>
<path d="M412.2,50V58.22M410.9,50H413.5M410.9,58.22H413.5" stroke="#1f3cff" stroke-width="1" fill="none"/>
<circle cx="412.2" cy="54.11" r="2" fill="none" stroke="#1f3cff" stroke-width="1.0"/>
<path d="M432,53.08V59.25M430.7,53.08H433.3M430.7,59.25H433.3" stroke="#1f3cff" stroke-width="1" fill="none"/>
<circle cx="432" cy="56.17" r="2" fill="none" stroke="#1f3cff" stroke-width="1.0"/>
<path d="M451.8,67.48V75.7M450.5,67.48H453.1M450.5,75.7H453.1" stroke="#1f3cff" stroke-width="1" fill="none"/>
<circle cx="451.8" cy="71.59" r="2" fill="none" stroke="#1f3cff" stroke-width="1.0"/>
<circle cx="471.6" cy="106.56" r="2" fill="none" stroke="#1f3cff" stroke-width="1.0"/>
<circle cx="491.4" cy="112.21" r="2" fill="none" stroke="#1f3cff" stroke-width="1.0"/>
<circle cx="511.2" cy="111.18" r="2" fill="none" stroke="#1f3cff" stroke-width="1.0"/>
<circle cx="531" cy="110.67" r="2" fill="none" stroke="#1f3cff" stroke-width="1.0"/>
<rect x="493.2" y="39.8" width="13.6" height="129" fill="#5d8ef6" fill-opacity="0.55"/>
<rect x="508.2" y="39.8" width="13.8" height="129" fill="#f82c11" fill-opacity="0.55"/>
<path d="M379.2,34.9V159.7" stroke="#000" stroke-width="1.5"/>
<path d="M375.8,159H379.2" stroke="#000" stroke-width="1.3"/>
<text x="374.8" y="161.87" font-size="8.2" text-anchor="end" font-weight="bold" fill="#111" textLength="4.47" lengthAdjust="spacingAndGlyphs">0</text>
<path d="M375.8,138.43H379.2" stroke="#000" stroke-width="1.3"/>
<text x="374.8" y="141.3" font-size="8.2" text-anchor="end" font-weight="bold" fill="#111" textLength="8.93" lengthAdjust="spacingAndGlyphs">20</text>
<path d="M375.8,117.87H379.2" stroke="#000" stroke-width="1.3"/>
<text x="374.8" y="120.74" font-size="8.2" text-anchor="end" font-weight="bold" fill="#111" textLength="8.93" lengthAdjust="spacingAndGlyphs">40</text>
<path d="M375.8,97.3H379.2" stroke="#000" stroke-width="1.3"/>
<text x="374.8" y="100.17" font-size="8.2" text-anchor="end" font-weight="bold" fill="#111" textLength="8.93" lengthAdjust="spacingAndGlyphs">60</text>
<path d="M375.8,76.73H379.2" stroke="#000" stroke-width="1.3"/>
<text x="374.8" y="79.6" font-size="8.2" text-anchor="end" font-weight="bold" fill="#111" textLength="8.93" lengthAdjust="spacingAndGlyphs">80</text>
<path d="M375.8,56.17H379.2" stroke="#000" stroke-width="1.3"/>
<text x="374.8" y="59.04" font-size="8.2" text-anchor="end" font-weight="bold" fill="#111" textLength="13.4" lengthAdjust="spacingAndGlyphs">100</text>
<path d="M375.8,35.6H379.2" stroke="#000" stroke-width="1.3"/>
<text x="374.8" y="38.47" font-size="8.2" text-anchor="end" font-weight="bold" fill="#111" textLength="13.4" lengthAdjust="spacingAndGlyphs">120</text>
<path d="M391.7,170.2H531.7" stroke="#000" stroke-width="1.4"/>
<path d="M392.4,170.2V173.2" stroke="#000" stroke-width="1.3"/>
<path d="M412.2,170.2V173.2" stroke="#000" stroke-width="1.3"/>
<path d="M432,170.2V173.2" stroke="#000" stroke-width="1.3"/>
<path d="M451.8,170.2V173.2" stroke="#000" stroke-width="1.3"/>
<path d="M471.6,170.2V173.2" stroke="#000" stroke-width="1.3"/>
<path d="M491.4,170.2V173.2" stroke="#000" stroke-width="1.3"/>
<path d="M511.2,170.2V173.2" stroke="#000" stroke-width="1.3"/>
<path d="M531,170.2V173.2" stroke="#000" stroke-width="1.3"/>
<text x="392.4" y="182.3" font-size="8" text-anchor="middle" font-weight="bold" fill="#111">0</text>
<text x="412.2" y="182.3" font-size="8" text-anchor="middle" font-weight="bold" fill="#111" textLength="18" lengthAdjust="spacingAndGlyphs">10<tspan dy="-2.56" font-size="6.08">-12</tspan></text>
<text x="432" y="182.3" font-size="8" text-anchor="middle" font-weight="bold" fill="#111" textLength="18" lengthAdjust="spacingAndGlyphs">10<tspan dy="-2.56" font-size="6.08">-11</tspan></text>
<text x="451.8" y="182.3" font-size="8" text-anchor="middle" font-weight="bold" fill="#111" textLength="18" lengthAdjust="spacingAndGlyphs">10<tspan dy="-2.56" font-size="6.08">-10</tspan></text>
<text x="471.6" y="182.3" font-size="8" text-anchor="middle" font-weight="bold" fill="#111" textLength="14.56" lengthAdjust="spacingAndGlyphs">10<tspan dy="-2.56" font-size="6.08">-9</tspan></text>
<text x="491.4" y="182.3" font-size="8" text-anchor="middle" font-weight="bold" fill="#111" textLength="14.56" lengthAdjust="spacingAndGlyphs">10<tspan dy="-2.56" font-size="6.08">-8</tspan></text>
<text x="511.2" y="182.3" font-size="8" text-anchor="middle" font-weight="bold" fill="#111" textLength="14.56" lengthAdjust="spacingAndGlyphs">10<tspan dy="-2.56" font-size="6.08">-7</tspan></text>
<text x="531" y="182.3" font-size="8" text-anchor="middle" font-weight="bold" fill="#111" textLength="14.56" lengthAdjust="spacingAndGlyphs">10<tspan dy="-2.56" font-size="6.08">-6</tspan></text>
<text x="462" y="194.6" font-size="8.8" text-anchor="middle" font-weight="bold" fill="#111" textLength="62" lengthAdjust="spacingAndGlyphs">[Drug] mol/L</text>
<text x="0" y="0" font-size="11" text-anchor="middle" font-weight="bold" fill="#111" textLength="104" lengthAdjust="spacingAndGlyphs" transform="translate(360,95) rotate(-90)">Percentage Viable Cells</text>
<text x="427.35" y="39.25" font-size="12.9" text-anchor="start" font-weight="normal" fill="#111" textLength="54.3" lengthAdjust="spacingAndGlyphs" stroke="#111" stroke-width="0.2">HCC1428</text>
<path d="M533.6,46H544" stroke="#1f3cff" stroke-width="1.4"/>
<circle cx="538.8" cy="46" r="1.9" fill="none" stroke="#1f3cff" stroke-width="1.0"/>
<text x="549" y="48.48" font-size="7.2" text-anchor="start" font-weight="normal" fill="#262626" textLength="58.58" lengthAdjust="spacingAndGlyphs">FULV (0.01nM E2)</text>
<path d="M533.6,60H544" stroke="#ff2a1a" stroke-width="1.4"/>
<circle cx="538.8" cy="60" r="1.9" fill="none" stroke="#ff2a1a" stroke-width="1.0"/>
<text x="549" y="62.48" font-size="7.2" text-anchor="start" font-weight="normal" fill="#262626" textLength="49.39" lengthAdjust="spacingAndGlyphs">EL (0.01nM E2)</text>
<polyline points="127.4,257.59 128.3,257.59 129.19,257.59 130.09,257.59 130.99,257.59 131.89,257.59 132.78,257.59 133.68,257.59 134.58,257.59 135.47,257.59 136.37,257.59 137.27,257.59 138.16,257.59 139.06,257.59 139.96,257.59 140.86,257.59 141.75,257.59 142.65,257.59 143.55,257.59 144.44,257.59 145.34,257.59 146.24,257.59 147.13,257.59 148.03,257.59 148.93,257.59 149.83,257.59 150.72,257.59 151.62,257.59 152.52,257.59 153.41,257.59 154.31,257.59 155.21,257.59 156.1,257.59 157,257.59 157.9,257.59 158.8,257.59 159.69,257.59 160.59,257.59 161.49,257.59 162.38,257.59 163.28,257.59 164.18,257.59 165.07,257.59 165.97,257.59 166.87,257.59 167.77,257.59 168.66,257.6 169.56,257.6 170.46,257.6 171.35,257.6 172.25,257.6 173.15,257.6 174.04,257.61 174.94,257.61 175.84,257.61 176.74,257.62 177.63,257.62 178.53,257.63 179.43,257.64 180.32,257.65 181.22,257.66 182.12,257.68 183.01,257.7 183.91,257.72 184.81,257.75 185.71,257.78 186.6,257.82 187.5,257.87 188.4,257.93 189.29,258.01 190.19,258.1 191.09,258.21 191.98,258.34 192.88,258.5 193.78,258.69 194.68,258.93 195.57,259.21 196.47,259.55 197.37,259.96 198.26,260.45 199.16,261.04 200.06,261.73 200.95,262.55 201.85,263.51 202.75,264.62 203.65,265.91 204.54,267.38 205.44,269.03 206.34,270.88 207.23,272.91 208.13,275.1 209.03,277.43 209.92,279.86 210.82,282.34 211.72,284.84 212.62,287.3 213.51,289.67 214.41,291.92 215.31,294.02 216.2,295.94 217.1,297.67 218,299.21 218.89,300.57 219.79,301.75 220.69,302.77 221.59,303.64 222.48,304.38 223.38,305.01 224.28,305.54 225.17,305.98 226.07,306.34 226.97,306.65 227.86,306.9 228.76,307.11 229.66,307.29 230.56,307.43 231.45,307.55 232.35,307.65 233.25,307.73 234.14,307.79 235.04,307.85 235.94,307.89 236.83,307.93 237.73,307.96 238.63,307.98 239.53,308 240.42,308.02 241.32,308.03 242.22,308.04 243.11,308.05 244.01,308.06 244.91,308.07 245.8,308.07 246.7,308.08 247.6,308.08 248.5,308.08 249.39,308.08 250.29,308.09 251.19,308.09 252.08,308.09 252.98,308.09" fill="none" stroke="#ff2a1a" stroke-width="1.7" opacity="1"/>
<polyline points="127.4,250.18 128.3,250.18 129.19,250.18 130.09,250.18 130.99,250.18 131.89,250.18 132.78,250.18 133.68,250.18 134.58,250.18 135.47,250.18 136.37,250.18 137.27,250.18 138.16,250.18 139.06,250.18 139.96,250.18 140.86,250.18 141.75,250.18 142.65,250.19 143.55,250.19 144.44,250.19 145.34,250.19 146.24,250.19 147.13,250.2 148.03,250.2 148.93,250.2 149.83,250.21 150.72,250.21 151.62,250.22 152.52,250.23 153.41,250.24 154.31,250.25 155.21,250.26 156.1,250.27 157,250.29 157.9,250.31 158.8,250.34 159.69,250.37 160.59,250.4 161.49,250.45 162.38,250.5 163.28,250.56 164.18,250.63 165.07,250.71 165.97,250.81 166.87,250.93 167.77,251.07 168.66,251.23 169.56,251.42 170.46,251.65 171.35,251.92 172.25,252.24 173.15,252.61 174.04,253.05 174.94,253.56 175.84,254.16 176.74,254.85 177.63,255.66 178.53,256.58 179.43,257.64 180.32,258.84 181.22,260.21 182.12,261.74 183.01,263.44 183.91,265.32 184.81,267.37 185.71,269.58 186.6,271.93 187.5,274.4 188.4,276.96 189.29,279.57 190.19,282.19 191.09,284.8 191.98,287.34 192.88,289.79 193.78,292.11 194.68,294.29 195.57,296.3 196.47,298.15 197.37,299.82 198.26,301.32 199.16,302.65 200.06,303.82 200.95,304.85 201.85,305.75 202.75,306.53 203.65,307.2 204.54,307.78 205.44,308.28 206.34,308.7 207.23,309.06 208.13,309.37 209.03,309.63 209.92,309.86 210.82,310.04 211.72,310.2 212.62,310.34 213.51,310.45 214.41,310.55 215.31,310.63 216.2,310.7 217.1,310.75 218,310.8 218.89,310.84 219.79,310.88 220.69,310.91 221.59,310.93 222.48,310.95 223.38,310.97 224.28,310.98 225.17,310.99 226.07,311 226.97,311.01 227.86,311.02 228.76,311.03 229.66,311.03 230.56,311.04 231.45,311.04 232.35,311.04 233.25,311.05 234.14,311.05 235.04,311.05 235.94,311.05 236.83,311.05 237.73,311.05 238.63,311.05 239.53,311.06 240.42,311.06 241.32,311.06 242.22,311.06 243.11,311.06 244.01,311.06 244.91,311.06 245.8,311.06 246.7,311.06 247.6,311.06 248.5,311.06 249.39,311.06 250.29,311.06 251.19,311.06 252.08,311.06 252.98,311.06" fill="none" stroke="#1f3cff" stroke-width="1.7" opacity="1"/>
<path d="M127.4,245.24V257.1M126.1,245.24H128.7M126.1,257.1H128.7" stroke="#ff2a1a" stroke-width="1" fill="none"/>
<circle cx="127.4" cy="251.17" r="2" fill="none" stroke="#ff2a1a" stroke-width="1.0"/>
<path d="M145.34,247.21V257.1M144.04,247.21H146.64M144.04,257.1H146.64" stroke="#ff2a1a" stroke-width="1" fill="none"/>
<circle cx="145.34" cy="252.16" r="2" fill="none" stroke="#ff2a1a" stroke-width="1.0"/>
<path d="M163.28,247.21V253.14M161.98,247.21H164.58M161.98,253.14H164.58" stroke="#ff2a1a" stroke-width="1" fill="none"/>
<circle cx="163.28" cy="250.18" r="2" fill="none" stroke="#ff2a1a" stroke-width="1.0"/>
<circle cx="181.22" cy="258.58" r="2" fill="none" stroke="#ff2a1a" stroke-width="1.0"/>
<circle cx="199.16" cy="282.5" r="2" fill="none" stroke="#ff2a1a" stroke-width="1.0"/>
<circle cx="217.1" cy="298.01" r="2" fill="none" stroke="#ff2a1a" stroke-width="1.0"/>
<circle cx="235.04" cy="296.63" r="2" fill="none" stroke="#ff2a1a" stroke-width="1.0"/>
<circle cx="252.98" cy="314.02" r="2" fill="none" stroke="#ff2a1a" stroke-width="1.0"/>
<path d="M127.4,247.21V255.12M126.1,247.21H128.7M126.1,255.12H128.7" stroke="#1f3cff" stroke-width="1" fill="none"/>
<circle cx="127.4" cy="251.17" r="2" fill="none" stroke="#1f3cff" stroke-width="1.0"/>
<path d="M145.34,246.23V254.13M144.04,246.23H146.64M144.04,254.13H146.64" stroke="#1f3cff" stroke-width="1" fill="none"/>
<circle cx="145.34" cy="250.18" r="2" fill="none" stroke="#1f3cff" stroke-width="1.0"/>
<path d="M163.28,247.21V255.12M161.98,247.21H164.58M161.98,255.12H164.58" stroke="#1f3cff" stroke-width="1" fill="none"/>
<circle cx="163.28" cy="251.17" r="2" fill="none" stroke="#1f3cff" stroke-width="1.0"/>
<circle cx="181.22" cy="264.41" r="2" fill="none" stroke="#1f3cff" stroke-width="1.0"/>
<circle cx="199.16" cy="303.05" r="2" fill="none" stroke="#1f3cff" stroke-width="1.0"/>
<circle cx="217.1" cy="311.45" r="2" fill="none" stroke="#1f3cff" stroke-width="1.0"/>
<circle cx="235.04" cy="312.05" r="2" fill="none" stroke="#1f3cff" stroke-width="1.0"/>
<circle cx="252.98" cy="311.06" r="2" fill="none" stroke="#1f3cff" stroke-width="1.0"/>
<rect x="218.2" y="237.2" width="12.8" height="122.6" fill="#5d8ef6" fill-opacity="0.55"/>
<rect x="232" y="237.2" width="12.8" height="122.6" fill="#f82c11" fill-opacity="0.55"/>
<path d="M115.2,230.7V350.7" stroke="#000" stroke-width="1.5"/>
<path d="M111.8,350H115.2" stroke="#000" stroke-width="1.3"/>
<text x="110.8" y="352.87" font-size="8.2" text-anchor="end" font-weight="bold" fill="#111" textLength="4.07" lengthAdjust="spacingAndGlyphs">0</text>
<path d="M111.8,330.23H115.2" stroke="#000" stroke-width="1.3"/>
<text x="110.8" y="333.1" font-size="8.2" text-anchor="end" font-weight="bold" fill="#111" textLength="8.13" lengthAdjust="spacingAndGlyphs">20</text>
<path d="M111.8,310.47H115.2" stroke="#000" stroke-width="1.3"/>
<text x="110.8" y="313.34" font-size="8.2" text-anchor="end" font-weight="bold" fill="#111" textLength="8.13" lengthAdjust="spacingAndGlyphs">40</text>
<path d="M111.8,290.7H115.2" stroke="#000" stroke-width="1.3"/>
<text x="110.8" y="293.57" font-size="8.2" text-anchor="end" font-weight="bold" fill="#111" textLength="8.13" lengthAdjust="spacingAndGlyphs">60</text>
<path d="M111.8,270.93H115.2" stroke="#000" stroke-width="1.3"/>
<text x="110.8" y="273.8" font-size="8.2" text-anchor="end" font-weight="bold" fill="#111" textLength="8.13" lengthAdjust="spacingAndGlyphs">80</text>
<path d="M111.8,251.17H115.2" stroke="#000" stroke-width="1.3"/>
<text x="110.8" y="254.04" font-size="8.2" text-anchor="end" font-weight="bold" fill="#111" textLength="12.2" lengthAdjust="spacingAndGlyphs">100</text>
<path d="M111.8,231.4H115.2" stroke="#000" stroke-width="1.3"/>
<text x="110.8" y="234.27" font-size="8.2" text-anchor="end" font-weight="bold" fill="#111" textLength="12.2" lengthAdjust="spacingAndGlyphs">120</text>
<path d="M126.7,361H253.68" stroke="#000" stroke-width="1.4"/>
<path d="M127.4,361V363.9" stroke="#000" stroke-width="1.3"/>
<path d="M145.34,361V363.9" stroke="#000" stroke-width="1.3"/>
<path d="M163.28,361V363.9" stroke="#000" stroke-width="1.3"/>
<path d="M181.22,361V363.9" stroke="#000" stroke-width="1.3"/>
<path d="M199.16,361V363.9" stroke="#000" stroke-width="1.3"/>
<path d="M217.1,361V363.9" stroke="#000" stroke-width="1.3"/>
<path d="M235.04,361V363.9" stroke="#000" stroke-width="1.3"/>
<path d="M252.98,361V363.9" stroke="#000" stroke-width="1.3"/>
<text x="127.4" y="372.3" font-size="7.8" text-anchor="middle" font-weight="bold" fill="#111">0</text>
<text x="145.34" y="372.3" font-size="7.8" text-anchor="middle" font-weight="bold" fill="#111" textLength="17" lengthAdjust="spacingAndGlyphs">10<tspan dy="-2.5" font-size="5.93">-12</tspan></text>
<text x="163.28" y="372.3" font-size="7.8" text-anchor="middle" font-weight="bold" fill="#111" textLength="17" lengthAdjust="spacingAndGlyphs">10<tspan dy="-2.5" font-size="5.93">-11</tspan></text>
<text x="181.22" y="372.3" font-size="7.8" text-anchor="middle" font-weight="bold" fill="#111" textLength="17" lengthAdjust="spacingAndGlyphs">10<tspan dy="-2.5" font-size="5.93">-10</tspan></text>
<text x="199.16" y="372.3" font-size="7.8" text-anchor="middle" font-weight="bold" fill="#111" textLength="13.75" lengthAdjust="spacingAndGlyphs">10<tspan dy="-2.5" font-size="5.93">-9</tspan></text>
<text x="217.1" y="372.3" font-size="7.8" text-anchor="middle" font-weight="bold" fill="#111" textLength="13.75" lengthAdjust="spacingAndGlyphs">10<tspan dy="-2.5" font-size="5.93">-8</tspan></text>
<text x="235.04" y="372.3" font-size="7.8" text-anchor="middle" font-weight="bold" fill="#111" textLength="13.75" lengthAdjust="spacingAndGlyphs">10<tspan dy="-2.5" font-size="5.93">-7</tspan></text>
<text x="252.98" y="372.3" font-size="7.8" text-anchor="middle" font-weight="bold" fill="#111" textLength="13.75" lengthAdjust="spacingAndGlyphs">10<tspan dy="-2.5" font-size="5.93">-6</tspan></text>
<text x="190.2" y="384.8" font-size="8.8" text-anchor="middle" font-weight="bold" fill="#111" textLength="56.4" lengthAdjust="spacingAndGlyphs">[Drug] mol/L</text>
<text x="0" y="0" font-size="11" text-anchor="middle" font-weight="bold" fill="#111" textLength="100" lengthAdjust="spacingAndGlyphs" transform="translate(98,289) rotate(-90)">Percentage Viable Cells</text>
<text x="172.85" y="237.35" font-size="12.3" text-anchor="start" font-weight="normal" fill="#111" textLength="41.5" lengthAdjust="spacingAndGlyphs" stroke="#111" stroke-width="0.2">SUM44</text>
<path d="M260.3,243.5H271" stroke="#1f3cff" stroke-width="1.4"/>
<circle cx="265.65" cy="243.5" r="1.9" fill="none" stroke="#1f3cff" stroke-width="1.0"/>
<text x="275.8" y="245.95" font-size="7.1" text-anchor="start" font-weight="normal" fill="#262626" textLength="58.66" lengthAdjust="spacingAndGlyphs">FULV (0.01nM E2)</text>
<path d="M260.3,257.1H271" stroke="#ff2a1a" stroke-width="1.4"/>
<circle cx="265.65" cy="257.1" r="1.9" fill="none" stroke="#ff2a1a" stroke-width="1.0"/>
<text x="275.8" y="259.55" font-size="7.1" text-anchor="start" font-weight="normal" fill="#262626" textLength="49.46" lengthAdjust="spacingAndGlyphs">EL (0.01nM E2)</text>
<polyline points="388.4,246.05 389.37,246.05 390.33,246.05 391.3,246.05 392.26,246.05 393.23,246.05 394.19,246.05 395.16,246.05 396.12,246.05 397.09,246.05 398.05,246.05 399.02,246.05 399.99,246.05 400.95,246.05 401.92,246.05 402.88,246.05 403.85,246.05 404.81,246.05 405.78,246.05 406.74,246.06 407.71,246.06 408.68,246.06 409.64,246.06 410.61,246.06 411.57,246.06 412.54,246.06 413.5,246.07 414.47,246.07 415.43,246.07 416.4,246.08 417.36,246.08 418.33,246.09 419.3,246.1 420.26,246.1 421.23,246.11 422.19,246.12 423.16,246.14 424.12,246.15 425.09,246.17 426.05,246.2 427.02,246.22 427.99,246.25 428.95,246.29 429.92,246.33 430.88,246.38 431.85,246.44 432.81,246.52 433.78,246.6 434.74,246.7 435.71,246.81 436.67,246.95 437.64,247.11 438.61,247.3 439.57,247.52 440.54,247.78 441.5,248.08 442.47,248.43 443.43,248.84 444.4,249.32 445.36,249.87 446.33,250.51 447.3,251.24 448.26,252.07 449.23,253.03 450.19,254.1 451.16,255.31 452.12,256.67 453.09,258.16 454.05,259.8 455.02,261.57 455.98,263.48 456.95,265.5 457.92,267.62 458.88,269.8 459.85,272.03 460.81,274.28 461.78,276.5 462.74,278.68 463.71,280.77 464.67,282.77 465.64,284.66 466.61,286.4 467.57,288.01 468.54,289.48 469.5,290.8 470.47,291.99 471.43,293.04 472.4,293.97 473.36,294.78 474.33,295.49 475.29,296.11 476.26,296.65 477.23,297.11 478.19,297.51 479.16,297.85 480.12,298.14 481.09,298.39 482.05,298.61 483.02,298.79 483.98,298.94 484.95,299.07 485.92,299.19 486.88,299.28 487.85,299.36 488.81,299.43 489.78,299.49 490.74,299.54 491.71,299.58 492.67,299.62 493.64,299.65 494.6,299.67 495.57,299.69 496.54,299.71 497.5,299.73 498.47,299.74 499.43,299.75 500.4,299.76 501.36,299.77 502.33,299.78 503.29,299.78 504.26,299.79 505.23,299.79 506.19,299.79 507.16,299.8 508.12,299.8 509.09,299.8 510.05,299.8 511.02,299.81 511.98,299.81 512.95,299.81 513.91,299.81 514.88,299.81 515.85,299.81 516.81,299.81 517.78,299.81 518.74,299.81 519.71,299.81 520.67,299.81 521.64,299.81 522.6,299.81 523.57,299.81" fill="none" stroke="#ff2a1a" stroke-width="1.7" opacity="1"/>
<polyline points="388.4,251.98 389.37,251.98 390.33,251.98 391.3,251.98 392.26,251.98 393.23,251.98 394.19,251.98 395.16,251.98 396.12,251.98 397.09,251.98 398.05,251.98 399.02,251.98 399.99,251.98 400.95,251.98 401.92,251.98 402.88,251.98 403.85,251.98 404.81,251.98 405.78,251.98 406.74,251.98 407.71,251.98 408.68,251.98 409.64,251.98 410.61,251.98 411.57,251.98 412.54,251.98 413.5,251.98 414.47,251.99 415.43,251.99 416.4,251.99 417.36,251.99 418.33,252 419.3,252 420.26,252.01 421.23,252.02 422.19,252.02 423.16,252.03 424.12,252.05 425.09,252.06 426.05,252.08 427.02,252.1 427.99,252.13 428.95,252.17 429.92,252.21 430.88,252.25 431.85,252.31 432.81,252.39 433.78,252.48 434.74,252.58 435.71,252.71 436.67,252.87 437.64,253.06 438.61,253.29 439.57,253.56 440.54,253.9 441.5,254.3 442.47,254.78 443.43,255.35 444.4,256.03 445.36,256.84 446.33,257.8 447.3,258.92 448.26,260.23 449.23,261.75 450.19,263.48 451.16,265.45 452.12,267.65 453.09,270.09 454.05,272.74 455.02,275.59 455.98,278.58 456.95,281.69 457.92,284.83 458.88,287.97 459.85,291.04 460.81,293.98 461.78,296.75 462.74,299.32 463.71,301.66 464.67,303.77 465.64,305.65 466.61,307.29 467.57,308.72 468.54,309.95 469.5,311.01 470.47,311.9 471.43,312.66 472.4,313.3 473.36,313.83 474.33,314.28 475.29,314.65 476.26,314.96 477.23,315.22 478.19,315.43 479.16,315.6 480.12,315.75 481.09,315.87 482.05,315.97 483.02,316.05 483.98,316.12 484.95,316.17 485.92,316.22 486.88,316.25 487.85,316.29 488.81,316.31 489.78,316.33 490.74,316.35 491.71,316.36 492.67,316.38 493.64,316.38 494.6,316.39 495.57,316.4 496.54,316.4 497.5,316.41 498.47,316.41 499.43,316.42 500.4,316.42 501.36,316.42 502.33,316.42 503.29,316.42 504.26,316.42 505.23,316.42 506.19,316.43 507.16,316.43 508.12,316.43 509.09,316.43 510.05,316.43 511.02,316.43 511.98,316.43 512.95,316.43 513.91,316.43 514.88,316.43 515.85,316.43 516.81,316.43 517.78,316.43 518.74,316.43 519.71,316.43 520.67,316.43 521.64,316.43 522.6,316.43 523.57,316.43" fill="none" stroke="#1f3cff" stroke-width="1.7" opacity="1"/>
<path d="M388.4,240.76V253.46M387.1,240.76H389.7M387.1,253.46H389.7" stroke="#ff2a1a" stroke-width="1" fill="none"/>
<circle cx="388.4" cy="247.11" r="2" fill="none" stroke="#ff2a1a" stroke-width="1.0"/>
<path d="M407.71,240.76V253.46M406.41,240.76H409.01M406.41,253.46H409.01" stroke="#ff2a1a" stroke-width="1" fill="none"/>
<circle cx="407.71" cy="247.11" r="2" fill="none" stroke="#ff2a1a" stroke-width="1.0"/>
<path d="M427.02,241.29V251.87M425.72,241.29H428.32M425.72,251.87H428.32" stroke="#ff2a1a" stroke-width="1" fill="none"/>
<circle cx="427.02" cy="246.58" r="2" fill="none" stroke="#ff2a1a" stroke-width="1.0"/>
<path d="M446.33,243.19V253.78M445.03,243.19H447.63M445.03,253.78H447.63" stroke="#ff2a1a" stroke-width="1" fill="none"/>
<circle cx="446.33" cy="248.48" r="2" fill="none" stroke="#ff2a1a" stroke-width="1.0"/>
<path d="M465.64,281.29V289.76M464.34,281.29H466.94M464.34,289.76H466.94" stroke="#ff2a1a" stroke-width="1" fill="none"/>
<circle cx="465.64" cy="285.53" r="2" fill="none" stroke="#ff2a1a" stroke-width="1.0"/>
<path d="M484.95,293.78V300.13M483.65,293.78H486.25M483.65,300.13H486.25" stroke="#ff2a1a" stroke-width="1" fill="none"/>
<circle cx="484.95" cy="296.96" r="2" fill="none" stroke="#ff2a1a" stroke-width="1.0"/>
<path d="M504.26,294.31V302.78M502.96,294.31H505.56M502.96,302.78H505.56" stroke="#ff2a1a" stroke-width="1" fill="none"/>
<circle cx="504.26" cy="298.54" r="2" fill="none" stroke="#ff2a1a" stroke-width="1.0"/>
<path d="M523.57,299.39V305.74M522.27,299.39H524.87M522.27,305.74H524.87" stroke="#ff2a1a" stroke-width="1" fill="none"/>
<circle cx="523.57" cy="302.56" r="2" fill="none" stroke="#ff2a1a" stroke-width="1.0"/>
<path d="M388.4,242.88V253.46M387.1,242.88H389.7M387.1,253.46H389.7" stroke="#1f3cff" stroke-width="1" fill="none"/>
<circle cx="388.4" cy="248.17" r="2" fill="none" stroke="#1f3cff" stroke-width="1.0"/>
<path d="M407.71,242.88V253.46M406.41,242.88H409.01M406.41,253.46H409.01" stroke="#1f3cff" stroke-width="1" fill="none"/>
<circle cx="407.71" cy="248.17" r="2" fill="none" stroke="#1f3cff" stroke-width="1.0"/>
<path d="M427.02,248.17V256.63M425.72,248.17H428.32M425.72,256.63H428.32" stroke="#1f3cff" stroke-width="1" fill="none"/>
<circle cx="427.02" cy="252.4" r="2" fill="none" stroke="#1f3cff" stroke-width="1.0"/>
<path d="M446.33,266.16V278.86M445.03,266.16H447.63M445.03,278.86H447.63" stroke="#1f3cff" stroke-width="1" fill="none"/>
<circle cx="446.33" cy="272.51" r="2" fill="none" stroke="#1f3cff" stroke-width="1.0"/>
<circle cx="465.64" cy="309.97" r="2" fill="none" stroke="#1f3cff" stroke-width="1.0"/>
<path d="M484.95,309.76V316.11M483.65,309.76H486.25M483.65,316.11H486.25" stroke="#1f3cff" stroke-width="1" fill="none"/>
<circle cx="484.95" cy="312.94" r="2" fill="none" stroke="#1f3cff" stroke-width="1.0"/>
<path d="M504.26,311.24V317.59M502.96,311.24H505.56M502.96,317.59H505.56" stroke="#1f3cff" stroke-width="1" fill="none"/>
<circle cx="504.26" cy="314.42" r="2" fill="none" stroke="#1f3cff" stroke-width="1.0"/>
<path d="M523.57,311.77V318.12M522.27,311.77H524.87M522.27,318.12H524.87" stroke="#1f3cff" stroke-width="1" fill="none"/>
<circle cx="523.57" cy="314.95" r="2" fill="none" stroke="#1f3cff" stroke-width="1.0"/>
<rect x="486.4" y="233.2" width="13.4" height="131.4" fill="#5d8ef6" fill-opacity="0.55"/>
<rect x="501.8" y="233.2" width="13.8" height="131.4" fill="#f82c11" fill-opacity="0.55"/>
<path d="M375.6,226.3V354.7" stroke="#000" stroke-width="1.5"/>
<path d="M372.2,354H375.6" stroke="#000" stroke-width="1.3"/>
<text x="370.8" y="356.87" font-size="8.2" text-anchor="end" font-weight="bold" fill="#111" textLength="4.33" lengthAdjust="spacingAndGlyphs">0</text>
<path d="M372.2,332.83H375.6" stroke="#000" stroke-width="1.3"/>
<text x="370.8" y="335.7" font-size="8.2" text-anchor="end" font-weight="bold" fill="#111" textLength="8.67" lengthAdjust="spacingAndGlyphs">20</text>
<path d="M372.2,311.67H375.6" stroke="#000" stroke-width="1.3"/>
<text x="370.8" y="314.54" font-size="8.2" text-anchor="end" font-weight="bold" fill="#111" textLength="8.67" lengthAdjust="spacingAndGlyphs">40</text>
<path d="M372.2,290.5H375.6" stroke="#000" stroke-width="1.3"/>
<text x="370.8" y="293.37" font-size="8.2" text-anchor="end" font-weight="bold" fill="#111" textLength="8.67" lengthAdjust="spacingAndGlyphs">60</text>
<path d="M372.2,269.33H375.6" stroke="#000" stroke-width="1.3"/>
<text x="370.8" y="272.2" font-size="8.2" text-anchor="end" font-weight="bold" fill="#111" textLength="8.67" lengthAdjust="spacingAndGlyphs">80</text>
<path d="M372.2,248.17H375.6" stroke="#000" stroke-width="1.3"/>
<text x="370.8" y="251.04" font-size="8.2" text-anchor="end" font-weight="bold" fill="#111" textLength="13" lengthAdjust="spacingAndGlyphs">100</text>
<path d="M372.2,227H375.6" stroke="#000" stroke-width="1.3"/>
<text x="370.8" y="229.87" font-size="8.2" text-anchor="end" font-weight="bold" fill="#111" textLength="13" lengthAdjust="spacingAndGlyphs">120</text>
<path d="M387.7,366H524.27" stroke="#000" stroke-width="1.4"/>
<path d="M388.4,366V368.9" stroke="#000" stroke-width="1.3"/>
<path d="M407.71,366V368.9" stroke="#000" stroke-width="1.3"/>
<path d="M427.02,366V368.9" stroke="#000" stroke-width="1.3"/>
<path d="M446.33,366V368.9" stroke="#000" stroke-width="1.3"/>
<path d="M465.64,366V368.9" stroke="#000" stroke-width="1.3"/>
<path d="M484.95,366V368.9" stroke="#000" stroke-width="1.3"/>
<path d="M504.26,366V368.9" stroke="#000" stroke-width="1.3"/>
<path d="M523.57,366V368.9" stroke="#000" stroke-width="1.3"/>
<text x="388.4" y="378.2" font-size="8" text-anchor="middle" font-weight="bold" fill="#111">0</text>
<text x="407.71" y="378.2" font-size="8" text-anchor="middle" font-weight="bold" fill="#111" textLength="18" lengthAdjust="spacingAndGlyphs">10<tspan dy="-2.56" font-size="6.08">-12</tspan></text>
<text x="427.02" y="378.2" font-size="8" text-anchor="middle" font-weight="bold" fill="#111" textLength="18" lengthAdjust="spacingAndGlyphs">10<tspan dy="-2.56" font-size="6.08">-11</tspan></text>
<text x="446.33" y="378.2" font-size="8" text-anchor="middle" font-weight="bold" fill="#111" textLength="18" lengthAdjust="spacingAndGlyphs">10<tspan dy="-2.56" font-size="6.08">-10</tspan></text>
<text x="465.64" y="378.2" font-size="8" text-anchor="middle" font-weight="bold" fill="#111" textLength="14.56" lengthAdjust="spacingAndGlyphs">10<tspan dy="-2.56" font-size="6.08">-9</tspan></text>
<text x="484.95" y="378.2" font-size="8" text-anchor="middle" font-weight="bold" fill="#111" textLength="14.56" lengthAdjust="spacingAndGlyphs">10<tspan dy="-2.56" font-size="6.08">-8</tspan></text>
<text x="504.26" y="378.2" font-size="8" text-anchor="middle" font-weight="bold" fill="#111" textLength="14.56" lengthAdjust="spacingAndGlyphs">10<tspan dy="-2.56" font-size="6.08">-7</tspan></text>
<text x="523.57" y="378.2" font-size="8" text-anchor="middle" font-weight="bold" fill="#111" textLength="14.56" lengthAdjust="spacingAndGlyphs">10<tspan dy="-2.56" font-size="6.08">-6</tspan></text>
<text x="456" y="391" font-size="8.8" text-anchor="middle" font-weight="bold" fill="#111" textLength="60" lengthAdjust="spacingAndGlyphs">[Drug] mol/L</text>
<text x="0" y="0" font-size="11" text-anchor="middle" font-weight="bold" fill="#111" textLength="108" lengthAdjust="spacingAndGlyphs" transform="translate(356,288) rotate(-90)">Percentage Viable Cells</text>
<text x="427.05" y="232.35" font-size="13.3" text-anchor="start" font-weight="normal" fill="#111" textLength="32.2" lengthAdjust="spacingAndGlyphs" stroke="#111" stroke-width="0.2">T47D</text>
<path d="M529,239H539" stroke="#1f3cff" stroke-width="1.4"/>
<circle cx="534" cy="239" r="1.9" fill="none" stroke="#1f3cff" stroke-width="1.0"/>
<text x="544" y="241.45" font-size="7.1" text-anchor="start" font-weight="normal" fill="#262626" textLength="58.66" lengthAdjust="spacingAndGlyphs">FULV (0.01nM E2)</text>
<path d="M529,252.6H539" stroke="#ff2a1a" stroke-width="1.4"/>
<circle cx="534" cy="252.6" r="1.9" fill="none" stroke="#ff2a1a" stroke-width="1.0"/>
<text x="544" y="255.05" font-size="7.1" text-anchor="start" font-weight="normal" fill="#262626" textLength="49.46" lengthAdjust="spacingAndGlyphs">EL (0.01nM E2)</text>
<polyline points="107,479.5 107.92,479.5 108.84,479.5 109.76,479.5 110.69,479.5 111.61,479.5 112.53,479.5 113.45,479.5 114.37,479.5 115.29,479.5 116.22,479.5 117.14,479.5 118.06,479.5 118.98,479.51 119.9,479.51 120.82,479.51 121.74,479.51 122.67,479.51 123.59,479.51 124.51,479.51 125.43,479.51 126.35,479.51 127.27,479.51 128.19,479.51 129.12,479.52 130.04,479.52 130.96,479.52 131.88,479.52 132.8,479.53 133.72,479.53 134.65,479.53 135.57,479.54 136.49,479.54 137.41,479.55 138.33,479.56 139.25,479.56 140.17,479.57 141.1,479.58 142.02,479.6 142.94,479.61 143.86,479.63 144.78,479.64 145.7,479.66 146.62,479.69 147.55,479.72 148.47,479.75 149.39,479.79 150.31,479.83 151.23,479.88 152.15,479.93 153.07,479.99 154,480.06 154.92,480.15 155.84,480.24 156.76,480.34 157.68,480.46 158.6,480.6 159.53,480.76 160.45,480.93 161.37,481.12 162.29,481.34 163.21,481.59 164.13,481.86 165.05,482.17 165.98,482.5 166.9,482.87 167.82,483.27 168.74,483.7 169.66,484.17 170.58,484.67 171.5,485.2 172.43,485.76 173.35,486.34 174.27,486.94 175.19,487.56 176.11,488.18 177.03,488.81 177.96,489.43 178.88,490.04 179.8,490.64 180.72,491.22 181.64,491.77 182.56,492.3 183.48,492.79 184.41,493.25 185.33,493.68 186.25,494.07 187.17,494.43 188.09,494.76 189.01,495.06 189.94,495.33 190.86,495.57 191.78,495.78 192.7,495.97 193.62,496.14 194.54,496.29 195.46,496.42 196.39,496.54 197.31,496.64 198.23,496.73 199.15,496.81 200.07,496.88 200.99,496.95 201.91,497 202.84,497.05 203.76,497.09 204.68,497.12 205.6,497.15 206.52,497.18 207.44,497.2 208.37,497.22 209.29,497.24 210.21,497.26 211.13,497.27 212.05,497.28 212.97,497.29 213.89,497.3 214.82,497.31 215.74,497.32 216.66,497.32 217.58,497.33 218.5,497.33 219.42,497.34 220.34,497.34 221.27,497.34 222.19,497.34 223.11,497.35 224.03,497.35 224.95,497.35 225.87,497.35 226.8,497.35 227.72,497.35 228.64,497.35 229.56,497.36 230.48,497.36 231.4,497.36 232.32,497.36 233.25,497.36 234.17,497.36 235.09,497.36 236.01,497.36" fill="none" stroke="#ff2a1a" stroke-width="1.7" stroke-dasharray="4.5,2" opacity="1"/>
<polyline points="107,479.5 107.92,479.5 108.84,479.5 109.76,479.5 110.69,479.5 111.61,479.5 112.53,479.5 113.45,479.5 114.37,479.5 115.29,479.5 116.22,479.5 117.14,479.5 118.06,479.5 118.98,479.5 119.9,479.5 120.82,479.5 121.74,479.5 122.67,479.5 123.59,479.5 124.51,479.5 125.43,479.5 126.35,479.5 127.27,479.5 128.19,479.5 129.12,479.5 130.04,479.5 130.96,479.5 131.88,479.5 132.8,479.5 133.72,479.5 134.65,479.5 135.57,479.5 136.49,479.5 137.41,479.5 138.33,479.5 139.25,479.5 140.17,479.5 141.1,479.5 142.02,479.5 142.94,479.5 143.86,479.5 144.78,479.5 145.7,479.5 146.62,479.5 147.55,479.5 148.47,479.5 149.39,479.5 150.31,479.5 151.23,479.5 152.15,479.5 153.07,479.5 154,479.5 154.92,479.5 155.84,479.5 156.76,479.5 157.68,479.51 158.6,479.51 159.53,479.51 160.45,479.51 161.37,479.51 162.29,479.52 163.21,479.52 164.13,479.53 165.05,479.55 165.98,479.56 166.9,479.59 167.82,479.62 168.74,479.67 169.66,479.74 170.58,479.84 171.5,479.98 172.43,480.18 173.35,480.45 174.27,480.82 175.19,481.33 176.11,482.03 177.03,482.96 177.96,484.19 178.88,485.75 179.8,487.69 180.72,489.99 181.64,492.6 182.56,495.39 183.48,498.22 184.41,500.92 185.33,503.35 186.25,505.43 187.17,507.15 188.09,508.5 189.01,509.55 189.94,510.33 190.86,510.91 191.78,511.34 192.7,511.64 193.62,511.86 194.54,512.02 195.46,512.14 196.39,512.22 197.31,512.27 198.23,512.32 199.15,512.34 200.07,512.36 200.99,512.38 201.91,512.39 202.84,512.4 203.76,512.4 204.68,512.41 205.6,512.41 206.52,512.41 207.44,512.41 208.37,512.41 209.29,512.41 210.21,512.41 211.13,512.41 212.05,512.41 212.97,512.41 213.89,512.41 214.82,512.41 215.74,512.41 216.66,512.41 217.58,512.41 218.5,512.41 219.42,512.41 220.34,512.41 221.27,512.41 222.19,512.41 223.11,512.41 224.03,512.41 224.95,512.41 225.87,512.41 226.8,512.41 227.72,512.41 228.64,512.41 229.56,512.41 230.48,512.41 231.4,512.41 232.32,512.41 233.25,512.41 234.17,512.41 235.09,512.41 236.01,512.41" fill="none" stroke="#ff2a1a" stroke-width="1.7" opacity="1"/>
<polyline points="107,479.04 107.92,479.04 108.84,479.04 109.76,479.04 110.69,479.04 111.61,479.04 112.53,479.04 113.45,479.04 114.37,479.04 115.29,479.04 116.22,479.04 117.14,479.04 118.06,479.04 118.98,479.04 119.9,479.04 120.82,479.04 121.74,479.04 122.67,479.04 123.59,479.04 124.51,479.04 125.43,479.04 126.35,479.04 127.27,479.04 128.19,479.05 129.12,479.05 130.04,479.05 130.96,479.05 131.88,479.06 132.8,479.06 133.72,479.07 134.65,479.07 135.57,479.08 136.49,479.09 137.41,479.1 138.33,479.11 139.25,479.13 140.17,479.14 141.1,479.16 142.02,479.19 142.94,479.22 143.86,479.25 144.78,479.29 145.7,479.34 146.62,479.4 147.55,479.47 148.47,479.55 149.39,479.65 150.31,479.77 151.23,479.9 152.15,480.06 153.07,480.25 154,480.48 154.92,480.74 155.84,481.05 156.76,481.42 157.68,481.84 158.6,482.33 159.53,482.9 160.45,483.56 161.37,484.31 162.29,485.17 163.21,486.13 164.13,487.21 165.05,488.41 165.98,489.73 166.9,491.16 167.82,492.69 168.74,494.31 169.66,496 170.58,497.73 171.5,499.49 172.43,501.24 173.35,502.96 174.27,504.62 175.19,506.21 176.11,507.7 177.03,509.09 177.96,510.36 178.88,511.51 179.8,512.54 180.72,513.46 181.64,514.28 182.56,514.99 183.48,515.61 184.41,516.15 185.33,516.61 186.25,517.01 187.17,517.35 188.09,517.64 189.01,517.89 189.94,518.1 190.86,518.28 191.78,518.43 192.7,518.56 193.62,518.67 194.54,518.76 195.46,518.83 196.39,518.9 197.31,518.95 198.23,519 199.15,519.04 200.07,519.07 200.99,519.1 201.91,519.12 202.84,519.14 203.76,519.16 204.68,519.17 205.6,519.18 206.52,519.19 207.44,519.2 208.37,519.2 209.29,519.21 210.21,519.22 211.13,519.22 212.05,519.22 212.97,519.23 213.89,519.23 214.82,519.23 215.74,519.23 216.66,519.23 217.58,519.23 218.5,519.23 219.42,519.24 220.34,519.24 221.27,519.24 222.19,519.24 223.11,519.24 224.03,519.24 224.95,519.24 225.87,519.24 226.8,519.24 227.72,519.24 228.64,519.24 229.56,519.24 230.48,519.24 231.4,519.24 232.32,519.24 233.25,519.24 234.17,519.24 235.09,519.24 236.01,519.24" fill="none" stroke="#1f3cff" stroke-width="1.7" stroke-dasharray="4.5,2" opacity="1"/>
<polyline points="107,479.04 107.92,479.04 108.84,479.04 109.76,479.04 110.69,479.04 111.61,479.04 112.53,479.04 113.45,479.04 114.37,479.04 115.29,479.04 116.22,479.04 117.14,479.04 118.06,479.04 118.98,479.04 119.9,479.04 120.82,479.04 121.74,479.04 122.67,479.04 123.59,479.04 124.51,479.04 125.43,479.04 126.35,479.04 127.27,479.04 128.19,479.04 129.12,479.04 130.04,479.04 130.96,479.04 131.88,479.04 132.8,479.04 133.72,479.04 134.65,479.04 135.57,479.04 136.49,479.05 137.41,479.05 138.33,479.05 139.25,479.05 140.17,479.06 141.1,479.06 142.02,479.07 142.94,479.08 143.86,479.09 144.78,479.1 145.7,479.11 146.62,479.12 147.55,479.14 148.47,479.16 149.39,479.19 150.31,479.22 151.23,479.26 152.15,479.31 153.07,479.36 154,479.43 154.92,479.51 155.84,479.61 156.76,479.72 157.68,479.86 158.6,480.03 159.53,480.23 160.45,480.48 161.37,480.76 162.29,481.11 163.21,481.51 164.13,481.99 165.05,482.56 165.98,483.23 166.9,484.02 167.82,484.93 168.74,485.99 169.66,487.2 170.58,488.58 171.5,490.13 172.43,491.86 173.35,493.76 174.27,495.83 175.19,498.03 176.11,500.36 177.03,502.77 177.96,505.21 178.88,507.66 179.8,510.07 180.72,512.4 181.64,514.6 182.56,516.67 183.48,518.57 184.41,520.3 185.33,521.85 186.25,523.23 187.17,524.44 188.09,525.5 189.01,526.41 189.94,527.2 190.86,527.87 191.78,528.44 192.7,528.92 193.62,529.32 194.54,529.67 195.46,529.95 196.39,530.2 197.31,530.4 198.23,530.57 199.15,530.71 200.07,530.82 200.99,530.92 201.91,531 202.84,531.07 203.76,531.12 204.68,531.17 205.6,531.21 206.52,531.24 207.44,531.27 208.37,531.29 209.29,531.31 210.21,531.32 211.13,531.33 212.05,531.34 212.97,531.35 213.89,531.36 214.82,531.37 215.74,531.37 216.66,531.38 217.58,531.38 218.5,531.38 219.42,531.38 220.34,531.39 221.27,531.39 222.19,531.39 223.11,531.39 224.03,531.39 224.95,531.39 225.87,531.39 226.8,531.39 227.72,531.39 228.64,531.39 229.56,531.39 230.48,531.39 231.4,531.39 232.32,531.39 233.25,531.39 234.17,531.39 235.09,531.39 236.01,531.39" fill="none" stroke="#1f3cff" stroke-width="1.7" opacity="1"/>
<path d="M107,477.16V482.77M105.7,477.16H108.3M105.7,482.77H108.3" stroke="#ff2a1a" stroke-width="1" fill="none"/>
<path d="M107,477.77 L109.1,481.62 L104.9,481.62Z" fill="none" stroke="#ff2a1a" stroke-width="1.0"/>
<path d="M125.43,476.23V485.58M124.13,476.23H126.73M124.13,485.58H126.73" stroke="#ff2a1a" stroke-width="1" fill="none"/>
<path d="M125.43,478.7 L127.53,482.55 L123.33,482.55Z" fill="none" stroke="#ff2a1a" stroke-width="1.0"/>
<path d="M143.86,477.16V482.77M142.56,477.16H145.16M142.56,482.77H145.16" stroke="#ff2a1a" stroke-width="1" fill="none"/>
<path d="M143.86,477.77 L145.96,481.62 L141.76,481.62Z" fill="none" stroke="#ff2a1a" stroke-width="1.0"/>
<path d="M162.29,477.16V482.77M160.99,477.16H163.59M160.99,482.77H163.59" stroke="#ff2a1a" stroke-width="1" fill="none"/>
<path d="M162.29,477.77 L164.39,481.62 L160.19,481.62Z" fill="none" stroke="#ff2a1a" stroke-width="1.0"/>
<path d="M180.72,486.23V491.84M179.42,486.23H182.02M179.42,491.84H182.02" stroke="#ff2a1a" stroke-width="1" fill="none"/>
<path d="M180.72,486.84 L182.82,490.69 L178.62,490.69Z" fill="none" stroke="#ff2a1a" stroke-width="1.0"/>
<path d="M199.15,496.24V501.85M197.85,496.24H200.45M197.85,501.85H200.45" stroke="#ff2a1a" stroke-width="1" fill="none"/>
<path d="M199.15,496.84 L201.25,500.69 L197.05,500.69Z" fill="none" stroke="#ff2a1a" stroke-width="1.0"/>
<path d="M217.58,497.17V502.78M216.28,497.17H218.88M216.28,502.78H218.88" stroke="#ff2a1a" stroke-width="1" fill="none"/>
<path d="M217.58,497.78 L219.68,501.63 L215.48,501.63Z" fill="none" stroke="#ff2a1a" stroke-width="1.0"/>
<path d="M236.01,489.32V498.67M234.71,489.32H237.31M234.71,498.67H237.31" stroke="#ff2a1a" stroke-width="1" fill="none"/>
<path d="M236.01,491.8 L238.11,495.64 L233.91,495.64Z" fill="none" stroke="#ff2a1a" stroke-width="1.0"/>
<path d="M107,477.16V482.77M105.7,477.16H108.3M105.7,482.77H108.3" stroke="#ff2a1a" stroke-width="1" fill="none"/>
<circle cx="107" cy="479.97" r="2" fill="none" stroke="#ff2a1a" stroke-width="1.0"/>
<path d="M125.43,476.23V483.71M124.13,476.23H126.73M124.13,483.71H126.73" stroke="#ff2a1a" stroke-width="1" fill="none"/>
<circle cx="125.43" cy="479.97" r="2" fill="none" stroke="#ff2a1a" stroke-width="1.0"/>
<path d="M143.86,477.16V482.77M142.56,477.16H145.16M142.56,482.77H145.16" stroke="#ff2a1a" stroke-width="1" fill="none"/>
<circle cx="143.86" cy="479.97" r="2" fill="none" stroke="#ff2a1a" stroke-width="1.0"/>
<path d="M162.29,477.16V482.77M160.99,477.16H163.59M160.99,482.77H163.59" stroke="#ff2a1a" stroke-width="1" fill="none"/>
<circle cx="162.29" cy="479.97" r="2" fill="none" stroke="#ff2a1a" stroke-width="1.0"/>
<path d="M180.72,485.21V490.82M179.42,485.21H182.02M179.42,490.82H182.02" stroke="#ff2a1a" stroke-width="1" fill="none"/>
<circle cx="180.72" cy="488.01" r="2" fill="none" stroke="#ff2a1a" stroke-width="1.0"/>
<circle cx="199.15" cy="512.7" r="2" fill="none" stroke="#ff2a1a" stroke-width="1.0"/>
<path d="M217.58,512.13V515.87M216.28,512.13H218.88M216.28,515.87H218.88" stroke="#ff2a1a" stroke-width="1" fill="none"/>
<circle cx="217.58" cy="514" r="2" fill="none" stroke="#ff2a1a" stroke-width="1.0"/>
<path d="M236.01,506.62V512.23M234.71,506.62H237.31M234.71,512.23H237.31" stroke="#ff2a1a" stroke-width="1" fill="none"/>
<circle cx="236.01" cy="509.42" r="2" fill="none" stroke="#ff2a1a" stroke-width="1.0"/>
<path d="M107,475.29V480.9M105.7,475.29H108.3M105.7,480.9H108.3" stroke="#1f3cff" stroke-width="1" fill="none"/>
<path d="M107,475.9 L109.1,479.75 L104.9,479.75Z" fill="none" stroke="#1f3cff" stroke-width="1.0"/>
<path d="M125.43,473.42V482.77M124.13,473.42H126.73M124.13,482.77H126.73" stroke="#1f3cff" stroke-width="1" fill="none"/>
<path d="M125.43,475.9 L127.53,479.75 L123.33,479.75Z" fill="none" stroke="#1f3cff" stroke-width="1.0"/>
<path d="M143.86,476.23V481.84M142.56,476.23H145.16M142.56,481.84H145.16" stroke="#1f3cff" stroke-width="1" fill="none"/>
<path d="M143.86,476.83 L145.96,480.68 L141.76,480.68Z" fill="none" stroke="#1f3cff" stroke-width="1.0"/>
<path d="M162.29,484.18V487.92M160.99,484.18H163.59M160.99,487.92H163.59" stroke="#1f3cff" stroke-width="1" fill="none"/>
<path d="M162.29,483.85 L164.39,487.7 L160.19,487.7Z" fill="none" stroke="#1f3cff" stroke-width="1.0"/>
<path d="M180.72,512.37 L182.82,516.22 L178.62,516.22Z" fill="none" stroke="#1f3cff" stroke-width="1.0"/>
<path d="M199.15,517.37V521.11M197.85,517.37H200.45M197.85,521.11H200.45" stroke="#1f3cff" stroke-width="1" fill="none"/>
<path d="M199.15,517.04 L201.25,520.89 L197.05,520.89Z" fill="none" stroke="#1f3cff" stroke-width="1.0"/>
<path d="M217.58,517.37V521.11M216.28,517.37H218.88M216.28,521.11H218.88" stroke="#1f3cff" stroke-width="1" fill="none"/>
<path d="M217.58,517.04 L219.68,520.89 L215.48,520.89Z" fill="none" stroke="#1f3cff" stroke-width="1.0"/>
<path d="M236.01,518.49V522.23M234.71,518.49H237.31M234.71,522.23H237.31" stroke="#1f3cff" stroke-width="1" fill="none"/>
<path d="M236.01,518.16 L238.11,522.01 L233.91,522.01Z" fill="none" stroke="#1f3cff" stroke-width="1.0"/>
<path d="M107,476.23V481.84M105.7,476.23H108.3M105.7,481.84H108.3" stroke="#1f3cff" stroke-width="1" fill="none"/>
<circle cx="107" cy="479.03" r="2" fill="none" stroke="#1f3cff" stroke-width="1.0"/>
<path d="M125.43,472.49V485.58M124.13,472.49H126.73M124.13,485.58H126.73" stroke="#1f3cff" stroke-width="1" fill="none"/>
<circle cx="125.43" cy="479.03" r="2" fill="none" stroke="#1f3cff" stroke-width="1.0"/>
<path d="M143.86,476.23V483.71M142.56,476.23H145.16M142.56,483.71H145.16" stroke="#1f3cff" stroke-width="1" fill="none"/>
<circle cx="143.86" cy="479.97" r="2" fill="none" stroke="#1f3cff" stroke-width="1.0"/>
<path d="M162.29,478.1V483.71M160.99,478.1H163.59M160.99,483.71H163.59" stroke="#1f3cff" stroke-width="1" fill="none"/>
<circle cx="162.29" cy="480.9" r="2" fill="none" stroke="#1f3cff" stroke-width="1.0"/>
<circle cx="180.72" cy="511.01" r="2" fill="none" stroke="#1f3cff" stroke-width="1.0"/>
<circle cx="199.15" cy="529.52" r="2" fill="none" stroke="#1f3cff" stroke-width="1.0"/>
<circle cx="217.58" cy="531.39" r="2" fill="none" stroke="#1f3cff" stroke-width="1.0"/>
<circle cx="236.01" cy="531.02" r="2" fill="none" stroke="#1f3cff" stroke-width="1.0"/>
<rect x="199.6" y="473" width="14.8" height="109" fill="#587cf2" fill-opacity="0.55"/>
<rect x="217" y="473" width="15" height="109" fill="#ff131f" fill-opacity="0.55"/>
<path d="M94.5,458.7V572.3" stroke="#000" stroke-width="1.5"/>
<path d="M92.2,571.6H94.5" stroke="#000" stroke-width="1.3"/>
<text x="89.6" y="574.47" font-size="8.2" text-anchor="end" font-weight="bold" fill="#111" textLength="4.2" lengthAdjust="spacingAndGlyphs">0</text>
<path d="M92.2,552.9H94.5" stroke="#000" stroke-width="1.3"/>
<text x="89.6" y="555.77" font-size="8.2" text-anchor="end" font-weight="bold" fill="#111" textLength="8.4" lengthAdjust="spacingAndGlyphs">20</text>
<path d="M92.2,534.2H94.5" stroke="#000" stroke-width="1.3"/>
<text x="89.6" y="537.07" font-size="8.2" text-anchor="end" font-weight="bold" fill="#111" textLength="8.4" lengthAdjust="spacingAndGlyphs">40</text>
<path d="M92.2,515.5H94.5" stroke="#000" stroke-width="1.3"/>
<text x="89.6" y="518.37" font-size="8.2" text-anchor="end" font-weight="bold" fill="#111" textLength="8.4" lengthAdjust="spacingAndGlyphs">60</text>
<path d="M92.2,496.8H94.5" stroke="#000" stroke-width="1.3"/>
<text x="89.6" y="499.67" font-size="8.2" text-anchor="end" font-weight="bold" fill="#111" textLength="8.4" lengthAdjust="spacingAndGlyphs">80</text>
<path d="M92.2,478.1H94.5" stroke="#000" stroke-width="1.3"/>
<text x="89.6" y="480.97" font-size="8.2" text-anchor="end" font-weight="bold" fill="#111" textLength="12.6" lengthAdjust="spacingAndGlyphs">100</text>
<path d="M92.2,459.4H94.5" stroke="#000" stroke-width="1.3"/>
<text x="89.6" y="462.27" font-size="8.2" text-anchor="end" font-weight="bold" fill="#111" textLength="12.6" lengthAdjust="spacingAndGlyphs">120</text>
<path d="M106.3,583H236.71" stroke="#000" stroke-width="1.4"/>
<path d="M107,583V584.6" stroke="#000" stroke-width="1.3"/>
<path d="M125.43,583V584.6" stroke="#000" stroke-width="1.3"/>
<path d="M143.86,583V584.6" stroke="#000" stroke-width="1.3"/>
<path d="M162.29,583V584.6" stroke="#000" stroke-width="1.3"/>
<path d="M180.72,583V584.6" stroke="#000" stroke-width="1.3"/>
<path d="M199.15,583V584.6" stroke="#000" stroke-width="1.3"/>
<path d="M217.58,583V584.6" stroke="#000" stroke-width="1.3"/>
<path d="M236.01,583V584.6" stroke="#000" stroke-width="1.3"/>
<text x="107" y="592.7" font-size="7" text-anchor="middle" font-weight="bold" fill="#111">0</text>
<text x="125.43" y="592.7" font-size="7" text-anchor="middle" font-weight="bold" fill="#111" textLength="16.8" lengthAdjust="spacingAndGlyphs">10<tspan dy="-2.24" font-size="5.32">-12</tspan></text>
<text x="143.86" y="592.7" font-size="7" text-anchor="middle" font-weight="bold" fill="#111" textLength="16.8" lengthAdjust="spacingAndGlyphs">10<tspan dy="-2.24" font-size="5.32">-11</tspan></text>
<text x="162.29" y="592.7" font-size="7" text-anchor="middle" font-weight="bold" fill="#111" textLength="16.8" lengthAdjust="spacingAndGlyphs">10<tspan dy="-2.24" font-size="5.32">-10</tspan></text>
<text x="180.72" y="592.7" font-size="7" text-anchor="middle" font-weight="bold" fill="#111" textLength="13.59" lengthAdjust="spacingAndGlyphs">10<tspan dy="-2.24" font-size="5.32">-9</tspan></text>
<text x="199.15" y="592.7" font-size="7" text-anchor="middle" font-weight="bold" fill="#111" textLength="13.59" lengthAdjust="spacingAndGlyphs">10<tspan dy="-2.24" font-size="5.32">-8</tspan></text>
<text x="217.58" y="592.7" font-size="7" text-anchor="middle" font-weight="bold" fill="#111" textLength="13.59" lengthAdjust="spacingAndGlyphs">10<tspan dy="-2.24" font-size="5.32">-7</tspan></text>
<text x="236.01" y="592.7" font-size="7" text-anchor="middle" font-weight="bold" fill="#111" textLength="13.59" lengthAdjust="spacingAndGlyphs">10<tspan dy="-2.24" font-size="5.32">-6</tspan></text>
<text x="171.5" y="605.5" font-size="8.8" text-anchor="middle" font-weight="bold" fill="#111" textLength="57" lengthAdjust="spacingAndGlyphs">[Drug] mol/L</text>
<text x="0" y="0" font-size="11" text-anchor="middle" font-weight="bold" fill="#111" textLength="95" lengthAdjust="spacingAndGlyphs" transform="translate(74.8,514.5) rotate(-90)">Percentage Viable Cells</text>
<text x="131.25" y="449.75" font-size="13.9" text-anchor="start" font-weight="normal" fill="#111" textLength="70.3" lengthAdjust="spacingAndGlyphs" stroke="#111" stroke-width="0.2">MCF7-LTED</text>
<text x="202.9" y="444.5" font-size="9" text-anchor="start" font-weight="normal" fill="#111" textLength="14.3" lengthAdjust="spacingAndGlyphs" stroke="#111" stroke-width="0.15">WT</text>
<path d="M255.6,464.6H266" stroke="#1f3cff" stroke-width="1.4"/>
<path d="M260.8,462.51 L262.8,466.17 L258.81,466.17Z" fill="none" stroke="#1f3cff" stroke-width="1.0"/>
<text x="271.5" y="466.81" font-size="6.4" text-anchor="start" font-weight="normal" fill="#262626" textLength="40.6" lengthAdjust="spacingAndGlyphs">FULV (DCC)</text>
<path d="M255.6,475.5H266" stroke="#1f3cff" stroke-width="1.4"/>
<circle cx="260.8" cy="475.5" r="1.9" fill="none" stroke="#1f3cff" stroke-width="1.0"/>
<text x="271.5" y="477.71" font-size="6.4" text-anchor="start" font-weight="normal" fill="#262626" textLength="59.98" lengthAdjust="spacingAndGlyphs">FULV (0.01nM E2)</text>
<path d="M255.6,486.5H266" stroke="#ff2a1a" stroke-width="1.4"/>
<path d="M260.8,484.41 L262.8,488.07 L258.81,488.07Z" fill="none" stroke="#ff2a1a" stroke-width="1.0"/>
<text x="271.5" y="488.71" font-size="6.4" text-anchor="start" font-weight="normal" fill="#262626" textLength="31.19" lengthAdjust="spacingAndGlyphs">EL (DCC)</text>
<path d="M255.6,497.4H266" stroke="#ff2a1a" stroke-width="1.4"/>
<circle cx="260.8" cy="497.4" r="1.9" fill="none" stroke="#ff2a1a" stroke-width="1.0"/>
<text x="271.5" y="499.61" font-size="6.4" text-anchor="start" font-weight="normal" fill="#262626" textLength="50.57" lengthAdjust="spacingAndGlyphs">EL (0.01nM E2)</text>
<polyline points="390,476.18 390.93,476.18 391.87,476.18 392.8,476.18 393.73,476.18 394.67,476.18 395.6,476.18 396.53,476.18 397.46,476.18 398.4,476.18 399.33,476.18 400.26,476.18 401.2,476.18 402.13,476.18 403.06,476.18 404,476.18 404.93,476.18 405.86,476.18 406.79,476.18 407.73,476.18 408.66,476.19 409.59,476.19 410.53,476.19 411.46,476.19 412.39,476.19 413.32,476.19 414.26,476.19 415.19,476.19 416.12,476.19 417.06,476.2 417.99,476.2 418.92,476.2 419.86,476.2 420.79,476.21 421.72,476.21 422.65,476.22 423.59,476.23 424.52,476.23 425.45,476.24 426.39,476.25 427.32,476.26 428.25,476.28 429.19,476.29 430.12,476.31 431.05,476.33 431.99,476.36 432.92,476.39 433.85,476.42 434.78,476.47 435.72,476.51 436.65,476.57 437.58,476.63 438.52,476.71 439.45,476.8 440.38,476.9 441.31,477.02 442.25,477.16 443.18,477.33 444.11,477.52 445.05,477.74 445.98,477.99 446.91,478.29 447.85,478.63 448.78,479.03 449.71,479.48 450.64,480.01 451.58,480.61 452.51,481.3 453.44,482.09 454.38,482.98 455.31,483.99 456.24,485.12 457.18,486.39 458.11,487.79 459.04,489.34 459.98,491.04 460.91,492.88 461.84,494.86 462.77,496.97 463.71,499.19 464.64,501.51 465.57,503.89 466.51,506.31 467.44,508.74 468.37,511.16 469.31,513.53 470.24,515.82 471.17,518.02 472.1,520.1 473.04,522.06 473.97,523.87 474.9,525.54 475.84,527.06 476.77,528.44 477.7,529.68 478.63,530.79 479.57,531.77 480.5,532.64 481.43,533.41 482.37,534.08 483.3,534.66 484.23,535.17 485.17,535.62 486.1,536 487.03,536.34 487.97,536.62 488.9,536.87 489.83,537.09 490.76,537.27 491.7,537.43 492.63,537.56 493.56,537.68 494.5,537.78 495.43,537.87 496.36,537.94 497.3,538 498.23,538.06 499.16,538.11 500.09,538.14 501.03,538.18 501.96,538.21 502.89,538.23 503.83,538.25 504.76,538.27 505.69,538.29 506.62,538.3 507.56,538.31 508.49,538.32 509.42,538.33 510.36,538.34 511.29,538.34 512.22,538.35 513.16,538.35 514.09,538.36 515.02,538.36 515.96,538.36 516.89,538.37 517.82,538.37 518.75,538.37 519.69,538.37 520.62,538.37" fill="none" stroke="#ff2a1a" stroke-width="1.7" stroke-dasharray="4.5,2" opacity="1"/>
<polyline points="390,476.18 390.93,476.18 391.87,476.18 392.8,476.18 393.73,476.18 394.67,476.18 395.6,476.18 396.53,476.18 397.46,476.18 398.4,476.18 399.33,476.18 400.26,476.19 401.2,476.19 402.13,476.19 403.06,476.19 404,476.19 404.93,476.19 405.86,476.19 406.79,476.19 407.73,476.19 408.66,476.19 409.59,476.2 410.53,476.2 411.46,476.2 412.39,476.2 413.32,476.21 414.26,476.21 415.19,476.21 416.12,476.22 417.06,476.22 417.99,476.23 418.92,476.24 419.86,476.24 420.79,476.25 421.72,476.26 422.65,476.28 423.59,476.29 424.52,476.31 425.45,476.33 426.39,476.35 427.32,476.37 428.25,476.4 429.19,476.43 430.12,476.47 431.05,476.51 431.99,476.56 432.92,476.61 433.85,476.68 434.78,476.75 435.72,476.83 436.65,476.93 437.58,477.04 438.52,477.17 439.45,477.31 440.38,477.47 441.31,477.66 442.25,477.88 443.18,478.12 444.11,478.4 445.05,478.72 445.98,479.08 446.91,479.49 447.85,479.95 448.78,480.48 449.71,481.07 450.64,481.74 451.58,482.49 452.51,483.34 453.44,484.28 454.38,485.34 455.31,486.5 456.24,487.79 457.18,489.21 458.11,490.76 459.04,492.45 459.98,494.28 460.91,496.23 461.84,498.32 462.77,500.52 463.71,502.83 464.64,505.24 465.57,507.71 466.51,510.24 467.44,512.8 468.37,515.36 469.31,517.91 470.24,520.41 471.17,522.84 472.1,525.2 473.04,527.44 473.97,529.58 474.9,531.59 475.84,533.46 476.77,535.21 477.7,536.81 478.63,538.28 479.57,539.62 480.5,540.84 481.43,541.94 482.37,542.93 483.3,543.81 484.23,544.6 485.17,545.3 486.1,545.92 487.03,546.48 487.97,546.97 488.9,547.4 489.83,547.78 490.76,548.11 491.7,548.4 492.63,548.66 493.56,548.89 494.5,549.08 495.43,549.26 496.36,549.41 497.3,549.54 498.23,549.66 499.16,549.76 500.09,549.85 501.03,549.92 501.96,549.99 502.89,550.05 503.83,550.1 504.76,550.15 505.69,550.18 506.62,550.22 507.56,550.25 508.49,550.27 509.42,550.3 510.36,550.32 511.29,550.33 512.22,550.35 513.16,550.36 514.09,550.37 515.02,550.38 515.96,550.39 516.89,550.4 517.82,550.4 518.75,550.41 519.69,550.42 520.62,550.42" fill="none" stroke="#ff2a1a" stroke-width="1.7" opacity="1"/>
<polyline points="390,476.65 390.93,476.65 391.87,476.65 392.8,476.65 393.73,476.65 394.67,476.65 395.6,476.65 396.53,476.65 397.46,476.65 398.4,476.65 399.33,476.65 400.26,476.65 401.2,476.65 402.13,476.65 403.06,476.66 404,476.66 404.93,476.66 405.86,476.66 406.79,476.66 407.73,476.67 408.66,476.67 409.59,476.68 410.53,476.68 411.46,476.69 412.39,476.69 413.32,476.7 414.26,476.71 415.19,476.72 416.12,476.74 417.06,476.75 417.99,476.77 418.92,476.79 419.86,476.82 420.79,476.85 421.72,476.88 422.65,476.92 423.59,476.97 424.52,477.02 425.45,477.09 426.39,477.16 427.32,477.25 428.25,477.35 429.19,477.47 430.12,477.61 431.05,477.78 431.99,477.97 432.92,478.19 433.85,478.45 434.78,478.75 435.72,479.1 436.65,479.51 437.58,479.98 438.52,480.53 439.45,481.15 440.38,481.87 441.31,482.7 442.25,483.64 443.18,484.72 444.11,485.93 445.05,487.3 445.98,488.83 446.91,490.54 447.85,492.42 448.78,494.48 449.71,496.71 450.64,499.12 451.58,501.67 452.51,504.36 453.44,507.16 454.38,510.04 455.31,512.96 456.24,515.89 457.18,518.79 458.11,521.62 459.04,524.36 459.98,526.97 460.91,529.44 461.84,531.74 462.77,533.87 463.71,535.83 464.64,537.6 465.57,539.2 466.51,540.63 467.44,541.91 468.37,543.04 469.31,544.03 470.24,544.9 471.17,545.66 472.1,546.33 473.04,546.9 473.97,547.4 474.9,547.83 475.84,548.21 476.77,548.53 477.7,548.8 478.63,549.04 479.57,549.24 480.5,549.42 481.43,549.57 482.37,549.7 483.3,549.81 484.23,549.9 485.17,549.98 486.1,550.05 487.03,550.11 487.97,550.16 488.9,550.2 489.83,550.24 490.76,550.27 491.7,550.29 492.63,550.32 493.56,550.34 494.5,550.35 495.43,550.37 496.36,550.38 497.3,550.39 498.23,550.4 499.16,550.4 500.09,550.41 501.03,550.42 501.96,550.42 502.89,550.43 503.83,550.43 504.76,550.43 505.69,550.43 506.62,550.44 507.56,550.44 508.49,550.44 509.42,550.44 510.36,550.44 511.29,550.44 512.22,550.44 513.16,550.44 514.09,550.44 515.02,550.45 515.96,550.45 516.89,550.45 517.82,550.45 518.75,550.45 519.69,550.45 520.62,550.45" fill="none" stroke="#1f3cff" stroke-width="1.7" stroke-dasharray="4.5,2" opacity="1"/>
<polyline points="390,476.65 390.93,476.65 391.87,476.65 392.8,476.65 393.73,476.65 394.67,476.65 395.6,476.65 396.53,476.65 397.46,476.65 398.4,476.65 399.33,476.65 400.26,476.65 401.2,476.65 402.13,476.65 403.06,476.66 404,476.66 404.93,476.66 405.86,476.66 406.79,476.66 407.73,476.67 408.66,476.67 409.59,476.67 410.53,476.68 411.46,476.68 412.39,476.69 413.32,476.7 414.26,476.71 415.19,476.72 416.12,476.73 417.06,476.75 417.99,476.76 418.92,476.78 419.86,476.81 420.79,476.83 421.72,476.87 422.65,476.9 423.59,476.95 424.52,477 425.45,477.06 426.39,477.13 427.32,477.22 428.25,477.31 429.19,477.43 430.12,477.56 431.05,477.72 431.99,477.9 432.92,478.11 433.85,478.35 434.78,478.64 435.72,478.98 436.65,479.36 437.58,479.81 438.52,480.33 439.45,480.94 440.38,481.63 441.31,482.43 442.25,483.34 443.18,484.38 444.11,485.57 445.05,486.91 445.98,488.43 446.91,490.12 447.85,492 448.78,494.08 449.71,496.36 450.64,498.83 451.58,501.49 452.51,504.32 453.44,507.29 454.38,510.39 455.31,513.57 456.24,516.8 457.18,520.04 458.11,523.24 459.04,526.37 459.98,529.4 460.91,532.29 461.84,535.02 462.77,537.57 463.71,539.92 464.64,542.08 465.57,544.04 466.51,545.81 467.44,547.39 468.37,548.8 469.31,550.05 470.24,551.15 471.17,552.11 472.1,552.96 473.04,553.69 473.97,554.33 474.9,554.88 475.84,555.36 476.77,555.77 477.7,556.12 478.63,556.43 479.57,556.69 480.5,556.91 481.43,557.11 482.37,557.27 483.3,557.41 484.23,557.54 485.17,557.64 486.1,557.73 487.03,557.8 487.97,557.87 488.9,557.92 489.83,557.97 490.76,558.01 491.7,558.05 492.63,558.08 493.56,558.1 494.5,558.12 495.43,558.14 496.36,558.16 497.3,558.17 498.23,558.18 499.16,558.19 500.09,558.2 501.03,558.21 501.96,558.21 502.89,558.22 503.83,558.22 504.76,558.22 505.69,558.23 506.62,558.23 507.56,558.23 508.49,558.23 509.42,558.24 510.36,558.24 511.29,558.24 512.22,558.24 513.16,558.24 514.09,558.24 515.02,558.24 515.96,558.24 516.89,558.24 517.82,558.24 518.75,558.24 519.69,558.24 520.62,558.24" fill="none" stroke="#1f3cff" stroke-width="1.7" opacity="1"/>
<path d="M390,473.4V478.97M388.7,473.4H391.3M388.7,478.97H391.3" stroke="#ff2a1a" stroke-width="1" fill="none"/>
<path d="M390,473.98 L392.1,477.83 L387.9,477.83Z" fill="none" stroke="#ff2a1a" stroke-width="1.0"/>
<path d="M408.66,474.32V479.89M407.36,474.32H409.96M407.36,479.89H409.96" stroke="#ff2a1a" stroke-width="1" fill="none"/>
<path d="M408.66,474.91 L410.76,478.76 L406.56,478.76Z" fill="none" stroke="#ff2a1a" stroke-width="1.0"/>
<path d="M427.32,473.4V478.97M426.02,473.4H428.62M426.02,478.97H428.62" stroke="#ff2a1a" stroke-width="1" fill="none"/>
<path d="M427.32,473.98 L429.42,477.83 L425.22,477.83Z" fill="none" stroke="#ff2a1a" stroke-width="1.0"/>
<path d="M445.98,470.61V478.04M444.68,470.61H447.28M444.68,478.04H447.28" stroke="#ff2a1a" stroke-width="1" fill="none"/>
<path d="M445.98,472.12 L448.08,475.97 L443.88,475.97Z" fill="none" stroke="#ff2a1a" stroke-width="1.0"/>
<path d="M464.64,498.65V506.07M463.34,498.65H465.94M463.34,506.07H465.94" stroke="#ff2a1a" stroke-width="1" fill="none"/>
<path d="M464.64,500.16 L466.74,504.01 L462.54,504.01Z" fill="none" stroke="#ff2a1a" stroke-width="1.0"/>
<path d="M483.3,534.32 L485.4,538.17 L481.2,538.17Z" fill="none" stroke="#ff2a1a" stroke-width="1.0"/>
<path d="M501.96,535.44 L504.06,539.29 L499.86,539.29Z" fill="none" stroke="#ff2a1a" stroke-width="1.0"/>
<path d="M520.62,538.5 L522.72,542.35 L518.52,542.35Z" fill="none" stroke="#ff2a1a" stroke-width="1.0"/>
<path d="M390,473.4V478.97M388.7,473.4H391.3M388.7,478.97H391.3" stroke="#ff2a1a" stroke-width="1" fill="none"/>
<circle cx="390" cy="476.18" r="2" fill="none" stroke="#ff2a1a" stroke-width="1.0"/>
<path d="M408.66,474.32V479.89M407.36,474.32H409.96M407.36,479.89H409.96" stroke="#ff2a1a" stroke-width="1" fill="none"/>
<circle cx="408.66" cy="477.11" r="2" fill="none" stroke="#ff2a1a" stroke-width="1.0"/>
<path d="M427.32,474.32V479.89M426.02,474.32H428.62M426.02,479.89H428.62" stroke="#ff2a1a" stroke-width="1" fill="none"/>
<circle cx="427.32" cy="477.11" r="2" fill="none" stroke="#ff2a1a" stroke-width="1.0"/>
<path d="M445.98,477.57V483.14M444.68,477.57H447.28M444.68,483.14H447.28" stroke="#ff2a1a" stroke-width="1" fill="none"/>
<circle cx="445.98" cy="480.36" r="2" fill="none" stroke="#ff2a1a" stroke-width="1.0"/>
<path d="M464.64,502.55V508.12M463.34,502.55H465.94M463.34,508.12H465.94" stroke="#ff2a1a" stroke-width="1" fill="none"/>
<circle cx="464.64" cy="505.33" r="2" fill="none" stroke="#ff2a1a" stroke-width="1.0"/>
<circle cx="483.3" cy="545.81" r="2" fill="none" stroke="#ff2a1a" stroke-width="1.0"/>
<circle cx="501.96" cy="548.22" r="2" fill="none" stroke="#ff2a1a" stroke-width="1.0"/>
<circle cx="520.62" cy="550.45" r="2" fill="none" stroke="#ff2a1a" stroke-width="1.0"/>
<path d="M390,474.32V479.89M388.7,474.32H391.3M388.7,479.89H391.3" stroke="#1f3cff" stroke-width="1" fill="none"/>
<path d="M390,474.91 L392.1,478.76 L387.9,478.76Z" fill="none" stroke="#1f3cff" stroke-width="1.0"/>
<path d="M408.66,471.54V480.82M407.36,471.54H409.96M407.36,480.82H409.96" stroke="#1f3cff" stroke-width="1" fill="none"/>
<path d="M408.66,473.98 L410.76,477.83 L406.56,477.83Z" fill="none" stroke="#1f3cff" stroke-width="1.0"/>
<path d="M427.32,472.47V479.89M426.02,472.47H428.62M426.02,479.89H428.62" stroke="#1f3cff" stroke-width="1" fill="none"/>
<path d="M427.32,473.98 L429.42,477.83 L425.22,477.83Z" fill="none" stroke="#1f3cff" stroke-width="1.0"/>
<path d="M445.98,485.46V491.04M444.68,485.46H447.28M444.68,491.04H447.28" stroke="#1f3cff" stroke-width="1" fill="none"/>
<path d="M445.98,486.05 L448.08,489.9 L443.88,489.9Z" fill="none" stroke="#1f3cff" stroke-width="1.0"/>
<path d="M464.64,541.16V544.88M463.34,541.16H465.94M463.34,544.88H465.94" stroke="#1f3cff" stroke-width="1" fill="none"/>
<path d="M464.64,540.82 L466.74,544.67 L462.54,544.67Z" fill="none" stroke="#1f3cff" stroke-width="1.0"/>
<path d="M483.3,547.32 L485.4,551.17 L481.2,551.17Z" fill="none" stroke="#1f3cff" stroke-width="1.0"/>
<path d="M501.96,549.18 L504.06,553.03 L499.86,553.03Z" fill="none" stroke="#1f3cff" stroke-width="1.0"/>
<path d="M520.62,549.18 L522.72,553.03 L518.52,553.03Z" fill="none" stroke="#1f3cff" stroke-width="1.0"/>
<path d="M390,474.32V483.61M388.7,474.32H391.3M388.7,483.61H391.3" stroke="#1f3cff" stroke-width="1" fill="none"/>
<circle cx="390" cy="478.97" r="2" fill="none" stroke="#1f3cff" stroke-width="1.0"/>
<path d="M408.66,470.61V481.75M407.36,470.61H409.96M407.36,481.75H409.96" stroke="#1f3cff" stroke-width="1" fill="none"/>
<circle cx="408.66" cy="476.18" r="2" fill="none" stroke="#1f3cff" stroke-width="1.0"/>
<path d="M427.32,471.54V480.82M426.02,471.54H428.62M426.02,480.82H428.62" stroke="#1f3cff" stroke-width="1" fill="none"/>
<circle cx="427.32" cy="476.18" r="2" fill="none" stroke="#1f3cff" stroke-width="1.0"/>
<path d="M445.98,490.57V496.14M444.68,490.57H447.28M444.68,496.14H447.28" stroke="#1f3cff" stroke-width="1" fill="none"/>
<circle cx="445.98" cy="493.36" r="2" fill="none" stroke="#1f3cff" stroke-width="1.0"/>
<circle cx="464.64" cy="544.23" r="2" fill="none" stroke="#1f3cff" stroke-width="1.0"/>
<circle cx="483.3" cy="558.25" r="2" fill="none" stroke="#1f3cff" stroke-width="1.0"/>
<circle cx="501.96" cy="557.41" r="2" fill="none" stroke="#1f3cff" stroke-width="1.0"/>
<circle cx="520.62" cy="559.27" r="2" fill="none" stroke="#1f3cff" stroke-width="1.0"/>
<rect x="483.2" y="473.8" width="14.6" height="108.2" fill="#587cf2" fill-opacity="0.55"/>
<rect x="500.2" y="473.8" width="14.8" height="108.2" fill="#ff131f" fill-opacity="0.55"/>
<path d="M377.5,459.7V572.5" stroke="#000" stroke-width="1.5"/>
<path d="M375.2,571.8H377.5" stroke="#000" stroke-width="1.3"/>
<text x="372.8" y="574.67" font-size="8.2" text-anchor="end" font-weight="bold" fill="#111" textLength="4.13" lengthAdjust="spacingAndGlyphs">0</text>
<path d="M375.2,553.23H377.5" stroke="#000" stroke-width="1.3"/>
<text x="372.8" y="556.1" font-size="8.2" text-anchor="end" font-weight="bold" fill="#111" textLength="8.27" lengthAdjust="spacingAndGlyphs">20</text>
<path d="M375.2,534.67H377.5" stroke="#000" stroke-width="1.3"/>
<text x="372.8" y="537.54" font-size="8.2" text-anchor="end" font-weight="bold" fill="#111" textLength="8.27" lengthAdjust="spacingAndGlyphs">40</text>
<path d="M375.2,516.1H377.5" stroke="#000" stroke-width="1.3"/>
<text x="372.8" y="518.97" font-size="8.2" text-anchor="end" font-weight="bold" fill="#111" textLength="8.27" lengthAdjust="spacingAndGlyphs">60</text>
<path d="M375.2,497.53H377.5" stroke="#000" stroke-width="1.3"/>
<text x="372.8" y="500.4" font-size="8.2" text-anchor="end" font-weight="bold" fill="#111" textLength="8.27" lengthAdjust="spacingAndGlyphs">80</text>
<path d="M375.2,478.97H377.5" stroke="#000" stroke-width="1.3"/>
<text x="372.8" y="481.84" font-size="8.2" text-anchor="end" font-weight="bold" fill="#111" textLength="12.4" lengthAdjust="spacingAndGlyphs">100</text>
<path d="M375.2,460.4H377.5" stroke="#000" stroke-width="1.3"/>
<text x="372.8" y="463.27" font-size="8.2" text-anchor="end" font-weight="bold" fill="#111" textLength="12.4" lengthAdjust="spacingAndGlyphs">120</text>
<path d="M389.3,583H521.32" stroke="#000" stroke-width="1.4"/>
<path d="M390,583V584.6" stroke="#000" stroke-width="1.3"/>
<path d="M408.66,583V584.6" stroke="#000" stroke-width="1.3"/>
<path d="M427.32,583V584.6" stroke="#000" stroke-width="1.3"/>
<path d="M445.98,583V584.6" stroke="#000" stroke-width="1.3"/>
<path d="M464.64,583V584.6" stroke="#000" stroke-width="1.3"/>
<path d="M483.3,583V584.6" stroke="#000" stroke-width="1.3"/>
<path d="M501.96,583V584.6" stroke="#000" stroke-width="1.3"/>
<path d="M520.62,583V584.6" stroke="#000" stroke-width="1.3"/>
<text x="390" y="592.7" font-size="7" text-anchor="middle" font-weight="bold" fill="#111">0</text>
<text x="408.66" y="592.7" font-size="7" text-anchor="middle" font-weight="bold" fill="#111" textLength="17" lengthAdjust="spacingAndGlyphs">10<tspan dy="-2.24" font-size="5.32">-12</tspan></text>
<text x="427.32" y="592.7" font-size="7" text-anchor="middle" font-weight="bold" fill="#111" textLength="17" lengthAdjust="spacingAndGlyphs">10<tspan dy="-2.24" font-size="5.32">-11</tspan></text>
<text x="445.98" y="592.7" font-size="7" text-anchor="middle" font-weight="bold" fill="#111" textLength="17" lengthAdjust="spacingAndGlyphs">10<tspan dy="-2.24" font-size="5.32">-10</tspan></text>
<text x="464.64" y="592.7" font-size="7" text-anchor="middle" font-weight="bold" fill="#111" textLength="13.75" lengthAdjust="spacingAndGlyphs">10<tspan dy="-2.24" font-size="5.32">-9</tspan></text>
<text x="483.3" y="592.7" font-size="7" text-anchor="middle" font-weight="bold" fill="#111" textLength="13.75" lengthAdjust="spacingAndGlyphs">10<tspan dy="-2.24" font-size="5.32">-8</tspan></text>
<text x="501.96" y="592.7" font-size="7" text-anchor="middle" font-weight="bold" fill="#111" textLength="13.75" lengthAdjust="spacingAndGlyphs">10<tspan dy="-2.24" font-size="5.32">-7</tspan></text>
<text x="520.62" y="592.7" font-size="7" text-anchor="middle" font-weight="bold" fill="#111" textLength="13.75" lengthAdjust="spacingAndGlyphs">10<tspan dy="-2.24" font-size="5.32">-6</tspan></text>
<text x="455.3" y="605.5" font-size="8.8" text-anchor="middle" font-weight="bold" fill="#111" textLength="56.6" lengthAdjust="spacingAndGlyphs">[Drug] mol/L</text>
<text x="0" y="0" font-size="11" text-anchor="middle" font-weight="bold" fill="#111" textLength="94" lengthAdjust="spacingAndGlyphs" transform="translate(358.1,515) rotate(-90)">Percentage Viable Cells</text>
<text x="397.35" y="449.75" font-size="13.9" text-anchor="start" font-weight="normal" fill="#111" textLength="70.3" lengthAdjust="spacingAndGlyphs" stroke="#111" stroke-width="0.2">MCF7-LTED</text>
<text x="468.8" y="444.9" font-size="9.3" text-anchor="start" font-weight="normal" fill="#111" textLength="26.2" lengthAdjust="spacingAndGlyphs" stroke="#111" stroke-width="0.15">Y537C</text>
<path d="M541,466H551.6" stroke="#1f3cff" stroke-width="1.4"/>
<path d="M546.3,463.91 L548.29,467.57 L544.3,467.57Z" fill="none" stroke="#1f3cff" stroke-width="1.0"/>
<text x="556.8" y="468.21" font-size="6.4" text-anchor="start" font-weight="normal" fill="#262626" textLength="40.6" lengthAdjust="spacingAndGlyphs">FULV (DCC)</text>
<path d="M541,476.6H551.6" stroke="#1f3cff" stroke-width="1.4"/>
<circle cx="546.3" cy="476.6" r="1.9" fill="none" stroke="#1f3cff" stroke-width="1.0"/>
<text x="556.8" y="478.81" font-size="6.4" text-anchor="start" font-weight="normal" fill="#262626" textLength="59.98" lengthAdjust="spacingAndGlyphs">FULV (0.01nM E2)</text>
<path d="M541,487.3H551.6" stroke="#ff2a1a" stroke-width="1.4"/>
<path d="M546.3,485.21 L548.29,488.87 L544.3,488.87Z" fill="none" stroke="#ff2a1a" stroke-width="1.0"/>
<text x="556.8" y="489.51" font-size="6.4" text-anchor="start" font-weight="normal" fill="#262626" textLength="31.19" lengthAdjust="spacingAndGlyphs">EL (DCC)</text>
<path d="M541,498.3H551.6" stroke="#ff2a1a" stroke-width="1.4"/>
<circle cx="546.3" cy="498.3" r="1.9" fill="none" stroke="#ff2a1a" stroke-width="1.0"/>
<text x="556.8" y="500.51" font-size="6.4" text-anchor="start" font-weight="normal" fill="#262626" textLength="50.57" lengthAdjust="spacingAndGlyphs">EL (0.01nM E2)</text>
<polyline points="39,663.55 39.93,663.55 40.86,663.55 41.79,663.55 42.71,663.55 43.64,663.55 44.57,663.55 45.5,663.55 46.43,663.55 47.36,663.55 48.28,663.55 49.21,663.55 50.14,663.55 51.07,663.55 52,663.55 52.93,663.55 53.86,663.55 54.78,663.55 55.71,663.55 56.64,663.55 57.57,663.55 58.5,663.55 59.43,663.55 60.36,663.55 61.28,663.55 62.21,663.55 63.14,663.55 64.07,663.55 65,663.55 65.93,663.55 66.86,663.56 67.78,663.56 68.71,663.56 69.64,663.56 70.57,663.56 71.5,663.56 72.43,663.56 73.35,663.56 74.28,663.56 75.21,663.56 76.14,663.56 77.07,663.56 78,663.56 78.93,663.56 79.85,663.56 80.78,663.56 81.71,663.56 82.64,663.56 83.57,663.56 84.5,663.56 85.42,663.56 86.35,663.56 87.28,663.56 88.21,663.56 89.14,663.56 90.07,663.56 91,663.56 91.92,663.57 92.85,663.57 93.78,663.57 94.71,663.57 95.64,663.58 96.57,663.58 97.5,663.58 98.42,663.59 99.35,663.59 100.28,663.6 101.21,663.61 102.14,663.62 103.07,663.63 104,663.64 104.92,663.65 105.85,663.67 106.78,663.69 107.71,663.71 108.64,663.74 109.57,663.77 110.49,663.8 111.42,663.85 112.35,663.89 113.28,663.95 114.21,664.02 115.14,664.09 116.07,664.18 116.99,664.29 117.92,664.41 118.85,664.55 119.78,664.72 120.71,664.91 121.64,665.13 122.56,665.38 123.49,665.68 124.42,666.02 125.35,666.42 126.28,666.88 127.21,667.4 128.14,668 129.06,668.68 129.99,669.46 130.92,670.35 131.85,671.34 132.78,672.46 133.71,673.71 134.64,675.1 135.56,676.63 136.49,678.3 137.42,680.11 138.35,682.05 139.28,684.12 140.21,686.29 141.13,688.56 142.06,690.89 142.99,693.26 143.92,695.64 144.85,698 145.78,700.32 146.71,702.57 147.63,704.73 148.56,706.77 149.49,708.69 150.42,710.47 151.35,712.11 152.28,713.61 153.21,714.97 154.13,716.19 155.06,717.29 155.99,718.26 156.92,719.12 157.85,719.88 158.78,720.55 159.7,721.13 160.63,721.64 161.56,722.08 162.49,722.47 163.42,722.8 164.35,723.09 165.28,723.34 166.2,723.56 167.13,723.74 168.06,723.9 168.99,724.04" fill="none" stroke="#ff2a1a" stroke-width="1.7" opacity="1"/>
<polyline points="39,656.95 39.93,656.95 40.86,656.95 41.79,656.95 42.71,656.95 43.64,656.95 44.57,656.95 45.5,656.95 46.43,656.95 47.36,656.95 48.28,656.95 49.21,656.95 50.14,656.95 51.07,656.95 52,656.95 52.93,656.95 53.86,656.95 54.78,656.95 55.71,656.95 56.64,656.95 57.57,656.95 58.5,656.95 59.43,656.95 60.36,656.95 61.28,656.95 62.21,656.95 63.14,656.95 64.07,656.95 65,656.95 65.93,656.95 66.86,656.95 67.78,656.95 68.71,656.95 69.64,656.95 70.57,656.95 71.5,656.95 72.43,656.95 73.35,656.95 74.28,656.95 75.21,656.96 76.14,656.96 77.07,656.96 78,656.96 78.93,656.96 79.85,656.97 80.78,656.97 81.71,656.98 82.64,656.98 83.57,656.99 84.5,657 85.42,657.01 86.35,657.02 87.28,657.03 88.21,657.05 89.14,657.07 90.07,657.09 91,657.12 91.92,657.15 92.85,657.19 93.78,657.24 94.71,657.29 95.64,657.36 96.57,657.44 97.5,657.54 98.42,657.65 99.35,657.78 100.28,657.94 101.21,658.13 102.14,658.36 103.07,658.63 104,658.95 104.92,659.32 105.85,659.76 106.78,660.28 107.71,660.89 108.64,661.6 109.57,662.43 110.49,663.38 111.42,664.48 112.35,665.73 113.28,667.15 114.21,668.75 115.14,670.53 116.07,672.48 116.99,674.61 117.92,676.9 118.85,679.33 119.78,681.86 120.71,684.47 121.64,687.11 122.56,689.74 123.49,692.33 124.42,694.82 125.35,697.2 126.28,699.42 127.21,701.49 128.14,703.37 129.06,705.08 129.99,706.6 130.92,707.96 131.85,709.15 132.78,710.18 133.71,711.08 134.64,711.86 135.56,712.53 136.49,713.1 137.42,713.59 138.35,714 139.28,714.35 140.21,714.65 141.13,714.9 142.06,715.11 142.99,715.29 143.92,715.44 144.85,715.57 145.78,715.67 146.71,715.76 147.63,715.83 148.56,715.9 149.49,715.95 150.42,715.99 151.35,716.03 152.28,716.06 153.21,716.09 154.13,716.11 155.06,716.13 155.99,716.14 156.92,716.15 157.85,716.16 158.78,716.17 159.7,716.18 160.63,716.19 161.56,716.19 162.49,716.2 163.42,716.2 164.35,716.2 165.28,716.21 166.2,716.21 167.13,716.21 168.06,716.21 168.99,716.21" fill="none" stroke="#1f3cff" stroke-width="1.7" opacity="1"/>
<path d="M39,654.52V658.41M37.7,654.52H40.3M37.7,658.41H40.3" stroke="#ff2a1a" stroke-width="1" fill="none"/>
<circle cx="39" cy="656.46" r="2" fill="none" stroke="#ff2a1a" stroke-width="1.0"/>
<path d="M57.57,653.55V659.38M56.27,653.55H58.87M56.27,659.38H58.87" stroke="#ff2a1a" stroke-width="1" fill="none"/>
<circle cx="57.57" cy="656.46" r="2" fill="none" stroke="#ff2a1a" stroke-width="1.0"/>
<path d="M76.14,653.55V661.32M74.84,653.55H77.44M74.84,661.32H77.44" stroke="#ff2a1a" stroke-width="1" fill="none"/>
<circle cx="76.14" cy="657.43" r="2" fill="none" stroke="#ff2a1a" stroke-width="1.0"/>
<path d="M94.71,655.98V661.81M93.41,655.98H96.01M93.41,661.81H96.01" stroke="#ff2a1a" stroke-width="1" fill="none"/>
<circle cx="94.71" cy="658.89" r="2" fill="none" stroke="#ff2a1a" stroke-width="1.0"/>
<path d="M113.28,667.93V671.81M111.98,667.93H114.58M111.98,671.81H114.58" stroke="#ff2a1a" stroke-width="1" fill="none"/>
<circle cx="113.28" cy="669.87" r="2" fill="none" stroke="#ff2a1a" stroke-width="1.0"/>
<circle cx="131.85" cy="693.09" r="2" fill="none" stroke="#ff2a1a" stroke-width="1.0"/>
<circle cx="150.42" cy="706.79" r="2" fill="none" stroke="#ff2a1a" stroke-width="1.0"/>
<circle cx="168.99" cy="727.68" r="2" fill="none" stroke="#ff2a1a" stroke-width="1.0"/>
<path d="M39,655.49V659.38M37.7,655.49H40.3M37.7,659.38H40.3" stroke="#1f3cff" stroke-width="1" fill="none"/>
<circle cx="39" cy="657.43" r="2" fill="none" stroke="#1f3cff" stroke-width="1.0"/>
<path d="M57.57,651.6V655.49M56.27,651.6H58.87M56.27,655.49H58.87" stroke="#1f3cff" stroke-width="1" fill="none"/>
<circle cx="57.57" cy="653.55" r="2" fill="none" stroke="#1f3cff" stroke-width="1.0"/>
<path d="M76.14,651.6V659.38M74.84,651.6H77.44M74.84,659.38H77.44" stroke="#1f3cff" stroke-width="1" fill="none"/>
<circle cx="76.14" cy="655.49" r="2" fill="none" stroke="#1f3cff" stroke-width="1.0"/>
<path d="M94.71,655V662.78M93.41,655H96.01M93.41,662.78H96.01" stroke="#1f3cff" stroke-width="1" fill="none"/>
<circle cx="94.71" cy="658.89" r="2" fill="none" stroke="#1f3cff" stroke-width="1.0"/>
<circle cx="113.28" cy="677.26" r="2" fill="none" stroke="#1f3cff" stroke-width="1.0"/>
<circle cx="131.85" cy="708.74" r="2" fill="none" stroke="#1f3cff" stroke-width="1.0"/>
<circle cx="150.42" cy="715.44" r="2" fill="none" stroke="#1f3cff" stroke-width="1.0"/>
<circle cx="168.99" cy="717.09" r="2" fill="none" stroke="#1f3cff" stroke-width="1.0"/>
<rect x="132.4" y="649.4" width="12.6" height="115" fill="#5d8ef6" fill-opacity="0.55"/>
<rect x="146.6" y="649.4" width="12.8" height="115" fill="#f82c11" fill-opacity="0.55"/>
<path d="M26.6,637.3V755.3" stroke="#000" stroke-width="1.5"/>
<path d="M23.2,754.6H26.6" stroke="#000" stroke-width="1.3"/>
<text x="22.8" y="757.47" font-size="8.2" text-anchor="end" font-weight="bold" fill="#111" textLength="4.07" lengthAdjust="spacingAndGlyphs">0</text>
<path d="M23.2,735.17H26.6" stroke="#000" stroke-width="1.3"/>
<text x="22.8" y="738.04" font-size="8.2" text-anchor="end" font-weight="bold" fill="#111" textLength="8.13" lengthAdjust="spacingAndGlyphs">20</text>
<path d="M23.2,715.73H26.6" stroke="#000" stroke-width="1.3"/>
<text x="22.8" y="718.6" font-size="8.2" text-anchor="end" font-weight="bold" fill="#111" textLength="8.13" lengthAdjust="spacingAndGlyphs">40</text>
<path d="M23.2,696.3H26.6" stroke="#000" stroke-width="1.3"/>
<text x="22.8" y="699.17" font-size="8.2" text-anchor="end" font-weight="bold" fill="#111" textLength="8.13" lengthAdjust="spacingAndGlyphs">60</text>
<path d="M23.2,676.87H26.6" stroke="#000" stroke-width="1.3"/>
<text x="22.8" y="679.74" font-size="8.2" text-anchor="end" font-weight="bold" fill="#111" textLength="8.13" lengthAdjust="spacingAndGlyphs">80</text>
<path d="M23.2,657.43H26.6" stroke="#000" stroke-width="1.3"/>
<text x="22.8" y="660.3" font-size="8.2" text-anchor="end" font-weight="bold" fill="#111" textLength="12.2" lengthAdjust="spacingAndGlyphs">100</text>
<path d="M23.2,638H26.6" stroke="#000" stroke-width="1.3"/>
<text x="22.8" y="640.87" font-size="8.2" text-anchor="end" font-weight="bold" fill="#111" textLength="12.2" lengthAdjust="spacingAndGlyphs">120</text>
<path d="M38.3,765.6H169.69" stroke="#000" stroke-width="1.4"/>
<path d="M39,765.6V767.9" stroke="#000" stroke-width="1.3"/>
<path d="M57.57,765.6V767.9" stroke="#000" stroke-width="1.3"/>
<path d="M76.14,765.6V767.9" stroke="#000" stroke-width="1.3"/>
<path d="M94.71,765.6V767.9" stroke="#000" stroke-width="1.3"/>
<path d="M113.28,765.6V767.9" stroke="#000" stroke-width="1.3"/>
<path d="M131.85,765.6V767.9" stroke="#000" stroke-width="1.3"/>
<path d="M150.42,765.6V767.9" stroke="#000" stroke-width="1.3"/>
<path d="M168.99,765.6V767.9" stroke="#000" stroke-width="1.3"/>
<text x="39" y="776.8" font-size="7.8" text-anchor="middle" font-weight="bold" fill="#111">0</text>
<text x="57.57" y="776.8" font-size="7.8" text-anchor="middle" font-weight="bold" fill="#111" textLength="17" lengthAdjust="spacingAndGlyphs">10<tspan dy="-2.5" font-size="5.93">-12</tspan></text>
<text x="76.14" y="776.8" font-size="7.8" text-anchor="middle" font-weight="bold" fill="#111" textLength="17" lengthAdjust="spacingAndGlyphs">10<tspan dy="-2.5" font-size="5.93">-11</tspan></text>
<text x="94.71" y="776.8" font-size="7.8" text-anchor="middle" font-weight="bold" fill="#111" textLength="17" lengthAdjust="spacingAndGlyphs">10<tspan dy="-2.5" font-size="5.93">-10</tspan></text>
<text x="113.28" y="776.8" font-size="7.8" text-anchor="middle" font-weight="bold" fill="#111" textLength="13.75" lengthAdjust="spacingAndGlyphs">10<tspan dy="-2.5" font-size="5.93">-9</tspan></text>
<text x="131.85" y="776.8" font-size="7.8" text-anchor="middle" font-weight="bold" fill="#111" textLength="13.75" lengthAdjust="spacingAndGlyphs">10<tspan dy="-2.5" font-size="5.93">-8</tspan></text>
<text x="150.42" y="776.8" font-size="7.8" text-anchor="middle" font-weight="bold" fill="#111" textLength="13.75" lengthAdjust="spacingAndGlyphs">10<tspan dy="-2.5" font-size="5.93">-7</tspan></text>
<text x="168.99" y="776.8" font-size="7.8" text-anchor="middle" font-weight="bold" fill="#111" textLength="13.75" lengthAdjust="spacingAndGlyphs">10<tspan dy="-2.5" font-size="5.93">-6</tspan></text>
<text x="104" y="788.5" font-size="8.8" text-anchor="middle" font-weight="bold" fill="#111" textLength="58" lengthAdjust="spacingAndGlyphs">[Drug] mol/L</text>
<text x="0" y="0" font-size="11" text-anchor="middle" font-weight="bold" fill="#111" textLength="98" lengthAdjust="spacingAndGlyphs" transform="translate(9,694) rotate(-90)">Percentage Viable Cells</text>
<text x="43.45" y="638.45" font-size="14.6" text-anchor="start" font-weight="normal" fill="#111" textLength="81.4" lengthAdjust="spacingAndGlyphs" stroke="#111" stroke-width="0.2">SUM44-LTED</text>
<text x="125.7" y="633.6" font-size="8.6" text-anchor="start" font-weight="normal" fill="#111" textLength="25.2" lengthAdjust="spacingAndGlyphs" stroke="#111" stroke-width="0.15">Y537S</text>
<path d="M167.6,671H177.6" stroke="#1f3cff" stroke-width="1.4"/>
<circle cx="172.6" cy="671" r="1.9" fill="none" stroke="#1f3cff" stroke-width="1.0"/>
<text x="182.1" y="673.76" font-size="8" text-anchor="start" font-weight="normal" fill="#111" textLength="36.8" lengthAdjust="spacingAndGlyphs" stroke="#111" stroke-width="0.22" paint-order="stroke">FULV (DCC)</text>
<path d="M167.6,686.1H177.6" stroke="#ff2a1a" stroke-width="1.4"/>
<circle cx="172.6" cy="686.1" r="1.9" fill="none" stroke="#ff2a1a" stroke-width="1.0"/>
<text x="182.1" y="688.86" font-size="8" text-anchor="start" font-weight="normal" fill="#111" textLength="28.27" lengthAdjust="spacingAndGlyphs" stroke="#111" stroke-width="0.22" paint-order="stroke">EL (DCC)</text>
<polyline points="271,663.2 271.87,663.2 272.74,663.2 273.61,663.2 274.47,663.2 275.34,663.2 276.21,663.2 277.08,663.2 277.95,663.2 278.82,663.2 279.69,663.2 280.55,663.2 281.42,663.2 282.29,663.2 283.16,663.2 284.03,663.2 284.9,663.2 285.76,663.2 286.63,663.21 287.5,663.21 288.37,663.21 289.24,663.21 290.11,663.21 290.98,663.21 291.84,663.21 292.71,663.22 293.58,663.22 294.45,663.22 295.32,663.23 296.19,663.23 297.06,663.24 297.92,663.25 298.79,663.25 299.66,663.26 300.53,663.27 301.4,663.29 302.27,663.3 303.13,663.32 304,663.34 304.87,663.37 305.74,663.39 306.61,663.43 307.48,663.47 308.35,663.51 309.21,663.57 310.08,663.63 310.95,663.71 311.82,663.79 312.69,663.9 313.56,664.02 314.43,664.15 315.29,664.32 316.16,664.51 317.03,664.72 317.9,664.98 318.77,665.27 319.64,665.61 320.5,666 321.37,666.44 322.24,666.95 323.11,667.53 323.98,668.18 324.85,668.92 325.72,669.74 326.58,670.64 327.45,671.64 328.32,672.73 329.19,673.91 330.06,675.16 330.93,676.49 331.8,677.87 332.66,679.3 333.53,680.75 334.4,682.21 335.27,683.66 336.14,685.08 337.01,686.45 337.87,687.77 338.74,689.01 339.61,690.16 340.48,691.23 341.35,692.22 342.22,693.11 343.09,693.91 343.95,694.63 344.82,695.26 345.69,695.83 346.56,696.32 347.43,696.76 348.3,697.13 349.17,697.46 350.03,697.75 350.9,697.99 351.77,698.2 352.64,698.39 353.51,698.54 354.38,698.68 355.24,698.79 356.11,698.89 356.98,698.98 357.85,699.05 358.72,699.11 359.59,699.17 360.46,699.21 361.32,699.25 362.19,699.28 363.06,699.31 363.93,699.33 364.8,699.35 365.67,699.37 366.54,699.39 367.4,699.4 368.27,699.41 369.14,699.42 370.01,699.43 370.88,699.43 371.75,699.44 372.61,699.44 373.48,699.45 374.35,699.45 375.22,699.45 376.09,699.46 376.96,699.46 377.83,699.46 378.69,699.46 379.56,699.46 380.43,699.46 381.3,699.46 382.17,699.47 383.04,699.47 383.9,699.47 384.77,699.47 385.64,699.47 386.51,699.47 387.38,699.47 388.25,699.47 389.12,699.47 389.98,699.47 390.85,699.47 391.72,699.47 392.59,699.47" fill="none" stroke="#ff2a1a" stroke-width="1.7" opacity="1"/>
<polyline points="271,664.13 271.87,664.13 272.74,664.13 273.61,664.13 274.47,664.13 275.34,664.13 276.21,664.13 277.08,664.13 277.95,664.13 278.82,664.13 279.69,664.13 280.55,664.13 281.42,664.13 282.29,664.13 283.16,664.13 284.03,664.13 284.9,664.13 285.76,664.13 286.63,664.14 287.5,664.14 288.37,664.14 289.24,664.14 290.11,664.14 290.98,664.14 291.84,664.15 292.71,664.15 293.58,664.15 294.45,664.16 295.32,664.16 296.19,664.17 297.06,664.18 297.92,664.19 298.79,664.2 299.66,664.22 300.53,664.23 301.4,664.25 302.27,664.28 303.13,664.31 304,664.34 304.87,664.39 305.74,664.44 306.61,664.5 307.48,664.57 308.35,664.66 309.21,664.77 310.08,664.9 310.95,665.05 311.82,665.23 312.69,665.44 313.56,665.7 314.43,666.01 315.29,666.37 316.16,666.8 317.03,667.3 317.9,667.89 318.77,668.58 319.64,669.39 320.5,670.31 321.37,671.37 322.24,672.58 323.11,673.94 323.98,675.46 324.85,677.14 325.72,678.96 326.58,680.91 327.45,682.98 328.32,685.13 329.19,687.33 330.06,689.55 330.93,691.74 331.8,693.88 332.66,695.92 333.53,697.85 334.4,699.64 335.27,701.29 336.14,702.77 337.01,704.1 337.87,705.28 338.74,706.32 339.61,707.22 340.48,708 341.35,708.67 342.22,709.24 343.09,709.73 343.95,710.14 344.82,710.49 345.69,710.79 346.56,711.04 347.43,711.24 348.3,711.42 349.17,711.57 350.03,711.69 350.9,711.79 351.77,711.88 352.64,711.95 353.51,712.01 354.38,712.06 355.24,712.1 356.11,712.13 356.98,712.16 357.85,712.19 358.72,712.21 359.59,712.22 360.46,712.24 361.32,712.25 362.19,712.26 363.06,712.26 363.93,712.27 364.8,712.28 365.67,712.28 366.54,712.29 367.4,712.29 368.27,712.29 369.14,712.29 370.01,712.29 370.88,712.3 371.75,712.3 372.61,712.3 373.48,712.3 374.35,712.3 375.22,712.3 376.09,712.3 376.96,712.3 377.83,712.3 378.69,712.3 379.56,712.3 380.43,712.3 381.3,712.3 382.17,712.3 383.04,712.3 383.9,712.3 384.77,712.3 385.64,712.3 386.51,712.3 387.38,712.3 388.25,712.3 389.12,712.3 389.98,712.3 390.85,712.3 391.72,712.3 392.59,712.3" fill="none" stroke="#1f3cff" stroke-width="1.7" opacity="1"/>
<path d="M271,661.34V665.06M269.7,661.34H272.3M269.7,665.06H272.3" stroke="#ff2a1a" stroke-width="1" fill="none"/>
<circle cx="271" cy="663.2" r="2" fill="none" stroke="#ff2a1a" stroke-width="1.0"/>
<path d="M288.37,658.09V661.81M287.07,658.09H289.67M287.07,661.81H289.67" stroke="#ff2a1a" stroke-width="1" fill="none"/>
<circle cx="288.37" cy="659.95" r="2" fill="none" stroke="#ff2a1a" stroke-width="1.0"/>
<path d="M305.74,658.55V662.27M304.44,658.55H307.04M304.44,662.27H307.04" stroke="#ff2a1a" stroke-width="1" fill="none"/>
<circle cx="305.74" cy="660.41" r="2" fill="none" stroke="#ff2a1a" stroke-width="1.0"/>
<path d="M323.11,671.76V675.48M321.81,671.76H324.41M321.81,675.48H324.41" stroke="#ff2a1a" stroke-width="1" fill="none"/>
<circle cx="323.11" cy="673.62" r="2" fill="none" stroke="#ff2a1a" stroke-width="1.0"/>
<path d="M340.48,687.94V693.52M339.18,687.94H341.78M339.18,693.52H341.78" stroke="#ff2a1a" stroke-width="1" fill="none"/>
<circle cx="340.48" cy="690.73" r="2" fill="none" stroke="#ff2a1a" stroke-width="1.0"/>
<circle cx="357.85" cy="696.03" r="2" fill="none" stroke="#ff2a1a" stroke-width="1.0"/>
<path d="M375.22,693.43V697.15M373.92,693.43H376.52M373.92,697.15H376.52" stroke="#ff2a1a" stroke-width="1" fill="none"/>
<circle cx="375.22" cy="695.29" r="2" fill="none" stroke="#ff2a1a" stroke-width="1.0"/>
<path d="M392.59,702.17V705.89M391.29,702.17H393.89M391.29,705.89H393.89" stroke="#ff2a1a" stroke-width="1" fill="none"/>
<circle cx="392.59" cy="704.03" r="2" fill="none" stroke="#ff2a1a" stroke-width="1.0"/>
<path d="M271,658.55V667.85M269.7,658.55H272.3M269.7,667.85H272.3" stroke="#1f3cff" stroke-width="1" fill="none"/>
<circle cx="271" cy="663.2" r="2" fill="none" stroke="#1f3cff" stroke-width="1.0"/>
<path d="M288.37,659.76V663.48M287.07,659.76H289.67M287.07,663.48H289.67" stroke="#1f3cff" stroke-width="1" fill="none"/>
<circle cx="288.37" cy="661.62" r="2" fill="none" stroke="#1f3cff" stroke-width="1.0"/>
<path d="M305.74,661.81V665.53M304.44,661.81H307.04M304.44,665.53H307.04" stroke="#1f3cff" stroke-width="1" fill="none"/>
<circle cx="305.74" cy="663.67" r="2" fill="none" stroke="#1f3cff" stroke-width="1.0"/>
<circle cx="323.11" cy="680.59" r="2" fill="none" stroke="#1f3cff" stroke-width="1.0"/>
<circle cx="340.48" cy="708.49" r="2" fill="none" stroke="#1f3cff" stroke-width="1.0"/>
<circle cx="357.85" cy="712.68" r="2" fill="none" stroke="#1f3cff" stroke-width="1.0"/>
<circle cx="375.22" cy="710.54" r="2" fill="none" stroke="#1f3cff" stroke-width="1.0"/>
<circle cx="392.59" cy="713.05" r="2" fill="none" stroke="#1f3cff" stroke-width="1.0"/>
<rect x="359.2" y="657" width="13.2" height="109.4" fill="#638ce2" fill-opacity="0.55"/>
<rect x="374.4" y="657" width="14" height="109.4" fill="#ff3344" fill-opacity="0.55"/>
<path d="M259.4,643.9V756.9" stroke="#000" stroke-width="1.5"/>
<path d="M257,756.2H259.4" stroke="#000" stroke-width="1.3"/>
<text x="255.2" y="759.07" font-size="8.2" text-anchor="end" font-weight="bold" fill="#111" textLength="4.07" lengthAdjust="spacingAndGlyphs">0</text>
<path d="M257,737.6H259.4" stroke="#000" stroke-width="1.3"/>
<text x="255.2" y="740.47" font-size="8.2" text-anchor="end" font-weight="bold" fill="#111" textLength="8.13" lengthAdjust="spacingAndGlyphs">20</text>
<path d="M257,719H259.4" stroke="#000" stroke-width="1.3"/>
<text x="255.2" y="721.87" font-size="8.2" text-anchor="end" font-weight="bold" fill="#111" textLength="8.13" lengthAdjust="spacingAndGlyphs">40</text>
<path d="M257,700.4H259.4" stroke="#000" stroke-width="1.3"/>
<text x="255.2" y="703.27" font-size="8.2" text-anchor="end" font-weight="bold" fill="#111" textLength="8.13" lengthAdjust="spacingAndGlyphs">60</text>
<path d="M257,681.8H259.4" stroke="#000" stroke-width="1.3"/>
<text x="255.2" y="684.67" font-size="8.2" text-anchor="end" font-weight="bold" fill="#111" textLength="8.13" lengthAdjust="spacingAndGlyphs">80</text>
<path d="M257,663.2H259.4" stroke="#000" stroke-width="1.3"/>
<text x="255.2" y="666.07" font-size="8.2" text-anchor="end" font-weight="bold" fill="#111" textLength="12.2" lengthAdjust="spacingAndGlyphs">100</text>
<path d="M257,644.6H259.4" stroke="#000" stroke-width="1.3"/>
<text x="255.2" y="647.47" font-size="8.2" text-anchor="end" font-weight="bold" fill="#111" textLength="12.2" lengthAdjust="spacingAndGlyphs">120</text>
<path d="M270.3,767H393.29" stroke="#000" stroke-width="1.4"/>
<path d="M271,767V768.9" stroke="#000" stroke-width="1.3"/>
<path d="M288.37,767V768.9" stroke="#000" stroke-width="1.3"/>
<path d="M305.74,767V768.9" stroke="#000" stroke-width="1.3"/>
<path d="M323.11,767V768.9" stroke="#000" stroke-width="1.3"/>
<path d="M340.48,767V768.9" stroke="#000" stroke-width="1.3"/>
<path d="M357.85,767V768.9" stroke="#000" stroke-width="1.3"/>
<path d="M375.22,767V768.9" stroke="#000" stroke-width="1.3"/>
<path d="M392.59,767V768.9" stroke="#000" stroke-width="1.3"/>
<text x="271" y="777.8" font-size="7.8" text-anchor="middle" font-weight="bold" fill="#111">0</text>
<text x="288.37" y="777.8" font-size="7.8" text-anchor="middle" font-weight="bold" fill="#111" textLength="17" lengthAdjust="spacingAndGlyphs">10<tspan dy="-2.5" font-size="5.93">-12</tspan></text>
<text x="305.74" y="777.8" font-size="7.8" text-anchor="middle" font-weight="bold" fill="#111" textLength="17" lengthAdjust="spacingAndGlyphs">10<tspan dy="-2.5" font-size="5.93">-11</tspan></text>
<text x="323.11" y="777.8" font-size="7.8" text-anchor="middle" font-weight="bold" fill="#111" textLength="17" lengthAdjust="spacingAndGlyphs">10<tspan dy="-2.5" font-size="5.93">-10</tspan></text>
<text x="340.48" y="777.8" font-size="7.8" text-anchor="middle" font-weight="bold" fill="#111" textLength="13.75" lengthAdjust="spacingAndGlyphs">10<tspan dy="-2.5" font-size="5.93">-9</tspan></text>
<text x="357.85" y="777.8" font-size="7.8" text-anchor="middle" font-weight="bold" fill="#111" textLength="13.75" lengthAdjust="spacingAndGlyphs">10<tspan dy="-2.5" font-size="5.93">-8</tspan></text>
<text x="375.22" y="777.8" font-size="7.8" text-anchor="middle" font-weight="bold" fill="#111" textLength="13.75" lengthAdjust="spacingAndGlyphs">10<tspan dy="-2.5" font-size="5.93">-7</tspan></text>
<text x="392.59" y="777.8" font-size="7.8" text-anchor="middle" font-weight="bold" fill="#111" textLength="13.75" lengthAdjust="spacingAndGlyphs">10<tspan dy="-2.5" font-size="5.93">-6</tspan></text>
<text x="331.5" y="789.5" font-size="8.8" text-anchor="middle" font-weight="bold" fill="#111" textLength="53" lengthAdjust="spacingAndGlyphs">[Drug] mol/L</text>
<text x="0" y="0" font-size="11" text-anchor="middle" font-weight="bold" fill="#111" textLength="94" lengthAdjust="spacingAndGlyphs" transform="translate(241,699) rotate(-90)">Percentage Viable Cells</text>
<text x="280.15" y="637.35" font-size="14.1" text-anchor="start" font-weight="normal" fill="#111" textLength="92.4" lengthAdjust="spacingAndGlyphs" stroke="#111" stroke-width="0.2">HCC1428-LTED</text>
<path d="M396.9,669.9H407" stroke="#1f3cff" stroke-width="1.4"/>
<circle cx="401.95" cy="669.9" r="1.9" fill="none" stroke="#1f3cff" stroke-width="1.0"/>
<text x="411.8" y="672.76" font-size="8.3" text-anchor="start" font-weight="normal" fill="#111" textLength="37.08" lengthAdjust="spacingAndGlyphs" stroke="#111" stroke-width="0.22" paint-order="stroke">FULV (DCC)</text>
<path d="M396.9,684.8H407" stroke="#ff2a1a" stroke-width="1.4"/>
<circle cx="401.95" cy="684.8" r="1.9" fill="none" stroke="#ff2a1a" stroke-width="1.0"/>
<text x="411.8" y="687.66" font-size="8.3" text-anchor="start" font-weight="normal" fill="#111" textLength="28.49" lengthAdjust="spacingAndGlyphs" stroke="#111" stroke-width="0.22" paint-order="stroke">EL (DCC)</text>
<polyline points="503.6,658.71 504.47,658.71 505.35,658.71 506.22,658.71 507.1,658.71 507.97,658.71 508.85,658.71 509.72,658.71 510.6,658.71 511.47,658.71 512.35,658.71 513.22,658.71 514.09,658.71 514.97,658.71 515.84,658.71 516.72,658.71 517.59,658.71 518.47,658.71 519.34,658.71 520.22,658.71 521.09,658.71 521.96,658.71 522.84,658.71 523.71,658.71 524.59,658.71 525.46,658.71 526.34,658.71 527.21,658.71 528.09,658.71 528.96,658.71 529.84,658.71 530.71,658.71 531.58,658.71 532.46,658.71 533.33,658.71 534.21,658.71 535.08,658.71 535.96,658.71 536.83,658.71 537.71,658.71 538.58,658.71 539.45,658.71 540.33,658.71 541.2,658.71 542.08,658.71 542.95,658.71 543.83,658.71 544.7,658.71 545.58,658.71 546.45,658.71 547.33,658.71 548.2,658.71 549.07,658.71 549.95,658.71 550.82,658.71 551.7,658.71 552.57,658.71 553.45,658.71 554.32,658.71 555.2,658.71 556.07,658.71 556.94,658.71 557.82,658.71 558.69,658.71 559.57,658.71 560.44,658.71 561.32,658.71 562.19,658.71 563.07,658.71 563.94,658.71 564.82,658.71 565.69,658.71 566.56,658.71 567.44,658.71 568.31,658.71 569.19,658.71 570.06,658.71 570.94,658.71 571.81,658.71 572.69,658.71 573.56,658.71 574.43,658.71 575.31,658.71 576.18,658.71 577.06,658.71 577.93,658.71 578.81,658.71 579.68,658.71 580.56,658.71 581.43,658.71 582.31,658.71 583.18,658.71 584.05,658.71 584.93,658.71 585.8,658.71 586.68,658.71 587.55,658.71 588.43,658.71 589.3,658.71 590.18,658.71 591.05,658.71 591.92,658.71 592.8,658.71 593.67,658.71 594.55,658.71 595.42,658.71 596.3,658.71 597.17,658.71 598.05,658.71 598.92,658.71 599.8,658.71 600.67,658.71 601.54,658.71 602.42,658.71 603.29,658.71 604.17,658.71 605.04,658.71 605.92,658.71 606.79,658.71 607.67,658.71 608.54,658.71 609.41,658.71 610.29,658.71 611.16,658.71 612.04,658.71 612.91,658.71 613.79,658.71 614.66,658.71 615.54,658.71 616.41,658.71 617.28,658.71 618.16,658.71 619.03,658.71 619.91,658.71 620.78,658.71 621.66,658.71 622.53,658.71 623.41,658.71 624.28,658.71 625.16,658.71 626.03,658.71" fill="none" stroke="#1f3cff" stroke-width="1.7" opacity="1"/>
<polyline points="503.6,659.68 504.47,659.68 505.35,659.68 506.22,659.68 507.1,659.68 507.97,659.68 508.85,659.68 509.72,659.68 510.6,659.68 511.47,659.68 512.35,659.68 513.22,659.68 514.09,659.68 514.97,659.68 515.84,659.68 516.72,659.68 517.59,659.68 518.47,659.68 519.34,659.68 520.22,659.68 521.09,659.68 521.96,659.68 522.84,659.68 523.71,659.68 524.59,659.68 525.46,659.68 526.34,659.68 527.21,659.68 528.09,659.68 528.96,659.68 529.84,659.68 530.71,659.68 531.58,659.68 532.46,659.68 533.33,659.68 534.21,659.68 535.08,659.68 535.96,659.68 536.83,659.68 537.71,659.68 538.58,659.68 539.45,659.68 540.33,659.68 541.2,659.68 542.08,659.68 542.95,659.68 543.83,659.68 544.7,659.68 545.58,659.68 546.45,659.68 547.33,659.68 548.2,659.68 549.07,659.68 549.95,659.68 550.82,659.68 551.7,659.68 552.57,659.68 553.45,659.68 554.32,659.68 555.2,659.68 556.07,659.68 556.94,659.68 557.82,659.68 558.69,659.68 559.57,659.68 560.44,659.68 561.32,659.68 562.19,659.68 563.07,659.68 563.94,659.68 564.82,659.68 565.69,659.68 566.56,659.68 567.44,659.68 568.31,659.68 569.19,659.68 570.06,659.68 570.94,659.68 571.81,659.68 572.69,659.68 573.56,659.68 574.43,659.68 575.31,659.68 576.18,659.68 577.06,659.68 577.93,659.68 578.81,659.68 579.68,659.68 580.56,659.68 581.43,659.68 582.31,659.68 583.18,659.68 584.05,659.68 584.93,659.68 585.8,659.68 586.68,659.68 587.55,659.68 588.43,659.68 589.3,659.68 590.18,659.68 591.05,659.69 591.92,659.69 592.8,659.69 593.67,659.69 594.55,659.7 595.42,659.7 596.3,659.7 597.17,659.71 598.05,659.71 598.92,659.72 599.8,659.73 600.67,659.74 601.54,659.75 602.42,659.76 603.29,659.78 604.17,659.8 605.04,659.82 605.92,659.85 606.79,659.89 607.67,659.92 608.54,659.97 609.41,660.03 610.29,660.09 611.16,660.17 612.04,660.26 612.91,660.37 613.79,660.5 614.66,660.66 615.54,660.84 616.41,661.06 617.28,661.31 618.16,661.61 619.03,661.97 619.91,662.39 620.78,662.89 621.66,663.47 622.53,664.15 623.41,664.95 624.28,665.88 625.16,666.96 626.03,668.21" fill="none" stroke="#ff2a1a" stroke-width="1.7" opacity="1"/>
<path d="M521.09,653.01V658.81M519.79,653.01H522.39M519.79,658.81H522.39" stroke="#ff2a1a" stroke-width="1" fill="none"/>
<circle cx="521.09" cy="655.91" r="2" fill="none" stroke="#ff2a1a" stroke-width="1.0"/>
<path d="M538.58,654.17V663.83M537.28,654.17H539.88M537.28,663.83H539.88" stroke="#ff2a1a" stroke-width="1" fill="none"/>
<circle cx="538.58" cy="659" r="2" fill="none" stroke="#ff2a1a" stroke-width="1.0"/>
<path d="M556.07,657.16V666.83M554.77,657.16H557.37M554.77,666.83H557.37" stroke="#ff2a1a" stroke-width="1" fill="none"/>
<circle cx="556.07" cy="662" r="2" fill="none" stroke="#ff2a1a" stroke-width="1.0"/>
<path d="M573.56,656.1V661.9M572.26,656.1H574.86M572.26,661.9H574.86" stroke="#ff2a1a" stroke-width="1" fill="none"/>
<circle cx="573.56" cy="659" r="2" fill="none" stroke="#ff2a1a" stroke-width="1.0"/>
<path d="M591.05,655.13V664.8M589.75,655.13H592.35M589.75,664.8H592.35" stroke="#ff2a1a" stroke-width="1" fill="none"/>
<circle cx="591.05" cy="659.97" r="2" fill="none" stroke="#ff2a1a" stroke-width="1.0"/>
<path d="M608.54,653.2V666.73M607.24,653.2H609.84M607.24,666.73H609.84" stroke="#ff2a1a" stroke-width="1" fill="none"/>
<circle cx="608.54" cy="659.97" r="2" fill="none" stroke="#ff2a1a" stroke-width="1.0"/>
<path d="M626.03,664.22V671.95M624.73,664.22H627.33M624.73,671.95H627.33" stroke="#ff2a1a" stroke-width="1" fill="none"/>
<circle cx="626.03" cy="668.09" r="2" fill="none" stroke="#ff2a1a" stroke-width="1.0"/>
<path d="M503.6,655.71V666.54M502.3,655.71H504.9M502.3,666.54H504.9" stroke="#1f3cff" stroke-width="1" fill="none"/>
<circle cx="503.6" cy="661.13" r="2" fill="none" stroke="#1f3cff" stroke-width="1.0"/>
<path d="M521.09,657.74V664.51M519.79,657.74H522.39M519.79,664.51H522.39" stroke="#1f3cff" stroke-width="1" fill="none"/>
<circle cx="521.09" cy="661.13" r="2" fill="none" stroke="#1f3cff" stroke-width="1.0"/>
<path d="M538.58,654.94V660.74M537.28,654.94H539.88M537.28,660.74H539.88" stroke="#1f3cff" stroke-width="1" fill="none"/>
<circle cx="538.58" cy="657.84" r="2" fill="none" stroke="#1f3cff" stroke-width="1.0"/>
<path d="M556.07,656.1V663.83M554.77,656.1H557.37M554.77,663.83H557.37" stroke="#1f3cff" stroke-width="1" fill="none"/>
<circle cx="556.07" cy="659.97" r="2" fill="none" stroke="#1f3cff" stroke-width="1.0"/>
<path d="M573.56,654.17V661.9M572.26,654.17H574.86M572.26,661.9H574.86" stroke="#1f3cff" stroke-width="1" fill="none"/>
<circle cx="573.56" cy="658.03" r="2" fill="none" stroke="#1f3cff" stroke-width="1.0"/>
<path d="M591.05,653.39V662.67M589.75,653.39H592.35M589.75,662.67H592.35" stroke="#1f3cff" stroke-width="1" fill="none"/>
<circle cx="591.05" cy="658.03" r="2" fill="none" stroke="#1f3cff" stroke-width="1.0"/>
<path d="M608.54,654.17V661.9M607.24,654.17H609.84M607.24,661.9H609.84" stroke="#1f3cff" stroke-width="1" fill="none"/>
<circle cx="608.54" cy="658.03" r="2" fill="none" stroke="#1f3cff" stroke-width="1.0"/>
<path d="M626.03,656.58V662.38M624.73,656.58H627.33M624.73,662.38H627.33" stroke="#1f3cff" stroke-width="1" fill="none"/>
<circle cx="626.03" cy="659.48" r="2" fill="none" stroke="#1f3cff" stroke-width="1.0"/>
<rect x="592" y="652" width="12.6" height="115" fill="#5d8ef6" fill-opacity="0.55"/>
<rect x="606" y="652" width="13" height="115" fill="#f82c11" fill-opacity="0.55"/>
<path d="M491.9,640.9V758.3" stroke="#000" stroke-width="1.5"/>
<path d="M489.7,757.6H491.9" stroke="#000" stroke-width="1.3"/>
<text x="488.4" y="760.47" font-size="8.2" text-anchor="end" font-weight="bold" fill="#111" textLength="4.07" lengthAdjust="spacingAndGlyphs">0</text>
<path d="M489.7,738.27H491.9" stroke="#000" stroke-width="1.3"/>
<text x="488.4" y="741.14" font-size="8.2" text-anchor="end" font-weight="bold" fill="#111" textLength="8.13" lengthAdjust="spacingAndGlyphs">20</text>
<path d="M489.7,718.93H491.9" stroke="#000" stroke-width="1.3"/>
<text x="488.4" y="721.8" font-size="8.2" text-anchor="end" font-weight="bold" fill="#111" textLength="8.13" lengthAdjust="spacingAndGlyphs">40</text>
<path d="M489.7,699.6H491.9" stroke="#000" stroke-width="1.3"/>
<text x="488.4" y="702.47" font-size="8.2" text-anchor="end" font-weight="bold" fill="#111" textLength="8.13" lengthAdjust="spacingAndGlyphs">60</text>
<path d="M489.7,680.27H491.9" stroke="#000" stroke-width="1.3"/>
<text x="488.4" y="683.14" font-size="8.2" text-anchor="end" font-weight="bold" fill="#111" textLength="8.13" lengthAdjust="spacingAndGlyphs">80</text>
<path d="M489.7,660.93H491.9" stroke="#000" stroke-width="1.3"/>
<text x="488.4" y="663.8" font-size="8.2" text-anchor="end" font-weight="bold" fill="#111" textLength="12.2" lengthAdjust="spacingAndGlyphs">100</text>
<path d="M489.7,641.6H491.9" stroke="#000" stroke-width="1.3"/>
<text x="488.4" y="644.47" font-size="8.2" text-anchor="end" font-weight="bold" fill="#111" textLength="12.2" lengthAdjust="spacingAndGlyphs">120</text>
<path d="M502.9,769H626.73" stroke="#000" stroke-width="1.4"/>
<path d="M503.6,769V771.5" stroke="#000" stroke-width="1.3"/>
<path d="M521.09,769V771.5" stroke="#000" stroke-width="1.3"/>
<path d="M538.58,769V771.5" stroke="#000" stroke-width="1.3"/>
<path d="M556.07,769V771.5" stroke="#000" stroke-width="1.3"/>
<path d="M573.56,769V771.5" stroke="#000" stroke-width="1.3"/>
<path d="M591.05,769V771.5" stroke="#000" stroke-width="1.3"/>
<path d="M608.54,769V771.5" stroke="#000" stroke-width="1.3"/>
<path d="M626.03,769V771.5" stroke="#000" stroke-width="1.3"/>
<text x="503.6" y="779.8" font-size="7.8" text-anchor="middle" font-weight="bold" fill="#111">0</text>
<text x="521.09" y="779.8" font-size="7.8" text-anchor="middle" font-weight="bold" fill="#111" textLength="17" lengthAdjust="spacingAndGlyphs">10<tspan dy="-2.5" font-size="5.93">-12</tspan></text>
<text x="538.58" y="779.8" font-size="7.8" text-anchor="middle" font-weight="bold" fill="#111" textLength="17" lengthAdjust="spacingAndGlyphs">10<tspan dy="-2.5" font-size="5.93">-11</tspan></text>
<text x="556.07" y="779.8" font-size="7.8" text-anchor="middle" font-weight="bold" fill="#111" textLength="17" lengthAdjust="spacingAndGlyphs">10<tspan dy="-2.5" font-size="5.93">-10</tspan></text>
<text x="573.56" y="779.8" font-size="7.8" text-anchor="middle" font-weight="bold" fill="#111" textLength="13.75" lengthAdjust="spacingAndGlyphs">10<tspan dy="-2.5" font-size="5.93">-9</tspan></text>
<text x="591.05" y="779.8" font-size="7.8" text-anchor="middle" font-weight="bold" fill="#111" textLength="13.75" lengthAdjust="spacingAndGlyphs">10<tspan dy="-2.5" font-size="5.93">-8</tspan></text>
<text x="608.54" y="779.8" font-size="7.8" text-anchor="middle" font-weight="bold" fill="#111" textLength="13.75" lengthAdjust="spacingAndGlyphs">10<tspan dy="-2.5" font-size="5.93">-7</tspan></text>
<text x="626.03" y="779.8" font-size="7.8" text-anchor="middle" font-weight="bold" fill="#111" textLength="13.75" lengthAdjust="spacingAndGlyphs">10<tspan dy="-2.5" font-size="5.93">-6</tspan></text>
<text x="565" y="791" font-size="8.8" text-anchor="middle" font-weight="bold" fill="#111" textLength="54" lengthAdjust="spacingAndGlyphs">[Drug] mol/L</text>
<text x="0" y="0" font-size="11" text-anchor="middle" font-weight="bold" fill="#111" textLength="97.4" lengthAdjust="spacingAndGlyphs" transform="translate(474.3,697.7) rotate(-90)">Percentage Viable Cells</text>
<text x="520.35" y="637.25" font-size="13.9" text-anchor="start" font-weight="normal" fill="#111" textLength="66.8" lengthAdjust="spacingAndGlyphs" stroke="#111" stroke-width="0.2">T47D-LTED</text>
<path d="M633.4,674.6H642.4" stroke="#1f3cff" stroke-width="1.4"/>
<circle cx="637.9" cy="674.6" r="1.9" fill="none" stroke="#1f3cff" stroke-width="1.0"/>
<text x="647.6" y="677.43" font-size="8.2" text-anchor="start" font-weight="normal" fill="#111" textLength="37.19" lengthAdjust="spacingAndGlyphs" stroke="#111" stroke-width="0.22" paint-order="stroke">FULV (DCC)</text>
<path d="M633.4,690H642.4" stroke="#ff2a1a" stroke-width="1.4"/>
<circle cx="637.9" cy="690" r="1.9" fill="none" stroke="#ff2a1a" stroke-width="1.0"/>
<text x="647.6" y="692.83" font-size="8.2" text-anchor="start" font-weight="normal" fill="#111" textLength="28.57" lengthAdjust="spacingAndGlyphs" stroke="#111" stroke-width="0.22" paint-order="stroke">EL (DCC)</text>
</svg>
</body></html>
